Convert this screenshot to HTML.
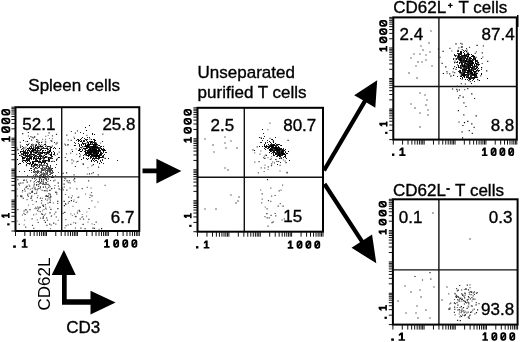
<!DOCTYPE html><html><head><meta charset="utf-8"><style>html,body{margin:0;padding:0;background:#fff;width:520px;height:342px;overflow:hidden}svg{display:block;will-change:transform}</style></head><body><svg width="520" height="342" viewBox="0 0 520 342"><path d="M30 162h1v1h-1zM44 162h1v1h-1zM29 155h1v1h-1zM44 158h1v1h-1zM51 153h1v1h-1zM35 155h1v1h-1zM34 164h1v1h-1zM40 149h1v1h-1zM34 150h1v1h-1zM31 151h1v1h-1zM44 153h1v1h-1zM27 158h1v1h-1zM27 159h1v1h-1zM32 148h1v1h-1zM45 146h1v1h-1zM29 163h1v1h-1zM30 148h1v1h-1zM41 165h1v1h-1zM48 158h1v1h-1zM36 153h1v1h-1zM40 155h1v1h-1zM48 153h1v1h-1zM35 148h1v1h-1zM43 158h1v1h-1zM30 153h1v1h-1zM27 157h1v1h-1zM36 155h1v1h-1zM42 157h1v1h-1zM39 164h1v1h-1zM40 162h1v1h-1zM23 157h1v1h-1zM37 152h1v1h-1zM26 153h1v1h-1zM27 156h1v1h-1zM31 151h1v1h-1zM23 152h1v1h-1zM29 159h1v1h-1zM36 145h1v1h-1zM24 157h1v1h-1zM37 147h1v1h-1zM23 155h1v1h-1zM38 152h1v1h-1zM25 151h1v1h-1zM31 154h1v1h-1zM30 146h1v1h-1zM39 158h1v1h-1zM35 159h1v1h-1zM32 164h1v1h-1zM46 153h1v1h-1zM35 164h1v1h-1zM49 159h1v1h-1zM38 154h1v1h-1zM33 161h1v1h-1zM34 155h1v1h-1zM43 148h1v1h-1zM41 149h1v1h-1zM25 156h1v1h-1zM38 146h1v1h-1zM27 157h1v1h-1zM24 153h1v1h-1zM33 147h1v1h-1zM38 146h1v1h-1zM42 156h1v1h-1zM35 145h1v1h-1zM50 158h1v1h-1zM34 152h1v1h-1zM28 148h1v1h-1zM35 156h1v1h-1zM36 164h1v1h-1zM23 154h1v1h-1zM39 159h1v1h-1zM46 154h1v1h-1zM35 159h1v1h-1zM33 161h1v1h-1zM28 158h1v1h-1zM38 150h1v1h-1zM47 163h1v1h-1zM32 161h1v1h-1zM21 156h1v1h-1zM49 151h1v1h-1zM30 149h1v1h-1zM29 151h1v1h-1zM38 146h1v1h-1zM36 158h1v1h-1zM27 158h1v1h-1zM25 155h1v1h-1zM46 163h1v1h-1zM29 157h1v1h-1zM45 161h1v1h-1zM42 162h1v1h-1zM45 154h1v1h-1zM46 156h1v1h-1zM39 159h1v1h-1zM29 156h1v1h-1zM52 156h1v1h-1zM39 148h1v1h-1zM41 162h1v1h-1zM27 150h1v1h-1zM23 160h1v1h-1zM43 162h1v1h-1zM48 151h1v1h-1zM42 152h1v1h-1zM35 153h1v1h-1zM46 157h1v1h-1zM25 150h1v1h-1zM38 158h1v1h-1zM47 149h1v1h-1zM48 161h1v1h-1zM51 157h1v1h-1zM38 153h1v1h-1zM39 154h1v1h-1zM33 151h1v1h-1zM40 154h1v1h-1zM27 150h1v1h-1zM33 158h1v1h-1zM23 154h1v1h-1zM39 155h1v1h-1zM31 146h1v1h-1zM45 148h1v1h-1zM37 147h1v1h-1zM30 162h1v1h-1zM43 157h1v1h-1zM38 157h1v1h-1zM36 157h1v1h-1zM44 152h1v1h-1zM37 164h1v1h-1zM45 162h1v1h-1zM38 152h1v1h-1zM40 164h1v1h-1zM48 152h1v1h-1zM35 163h1v1h-1zM33 148h1v1h-1zM42 148h1v1h-1zM22 154h1v1h-1zM50 157h1v1h-1zM28 153h1v1h-1zM44 148h1v1h-1zM49 160h1v1h-1zM34 154h1v1h-1zM25 157h1v1h-1zM36 147h1v1h-1zM33 157h1v1h-1zM27 160h1v1h-1zM51 157h1v1h-1zM46 154h1v1h-1zM40 162h1v1h-1zM36 150h1v1h-1zM35 160h1v1h-1zM27 156h1v1h-1zM43 150h1v1h-1zM32 156h1v1h-1zM32 162h1v1h-1zM44 158h1v1h-1zM37 158h1v1h-1zM39 158h1v1h-1zM42 156h1v1h-1zM31 156h1v1h-1zM38 158h1v1h-1zM35 146h1v1h-1zM35 160h1v1h-1zM23 151h1v1h-1zM24 155h1v1h-1zM43 157h1v1h-1zM44 160h1v1h-1zM48 149h1v1h-1zM41 147h1v1h-1zM25 150h1v1h-1zM46 148h1v1h-1zM46 148h1v1h-1zM50 155h1v1h-1zM34 157h1v1h-1zM37 148h1v1h-1zM36 159h1v1h-1zM25 156h1v1h-1zM51 153h1v1h-1zM43 156h1v1h-1zM25 161h1v1h-1zM44 162h1v1h-1zM22 151h1v1h-1zM24 151h1v1h-1zM28 148h1v1h-1zM25 152h1v1h-1zM37 151h1v1h-1zM41 147h1v1h-1zM40 161h1v1h-1zM38 157h1v1h-1zM26 149h1v1h-1zM43 160h1v1h-1zM35 147h1v1h-1zM28 159h1v1h-1zM35 164h1v1h-1zM27 153h1v1h-1zM34 152h1v1h-1zM24 152h1v1h-1zM49 161h1v1h-1zM48 151h1v1h-1zM48 160h1v1h-1zM37 165h1v1h-1zM39 158h1v1h-1zM39 153h1v1h-1zM42 156h1v1h-1zM49 151h1v1h-1zM43 157h1v1h-1zM44 163h1v1h-1zM36 152h1v1h-1zM26 158h1v1h-1zM38 156h1v1h-1zM31 159h1v1h-1zM45 154h1v1h-1zM37 147h1v1h-1zM31 164h1v1h-1zM39 146h1v1h-1zM52 156h1v1h-1zM42 160h1v1h-1zM29 156h1v1h-1zM34 152h1v1h-1zM34 155h1v1h-1zM42 161h1v1h-1zM35 159h1v1h-1zM51 158h1v1h-1zM39 162h1v1h-1zM41 158h1v1h-1zM24 157h1v1h-1zM31 159h1v1h-1zM27 151h1v1h-1zM35 160h1v1h-1zM37 148h1v1h-1zM25 160h1v1h-1zM37 146h1v1h-1zM31 157h1v1h-1zM41 153h1v1h-1zM35 145h1v1h-1zM36 160h1v1h-1zM27 151h1v1h-1zM47 152h1v1h-1zM36 153h1v1h-1zM45 161h1v1h-1zM41 155h1v1h-1zM34 150h1v1h-1zM44 160h1v1h-1zM48 160h1v1h-1zM49 160h1v1h-1zM30 163h1v1h-1zM51 157h1v1h-1zM48 151h1v1h-1zM26 149h1v1h-1zM31 153h1v1h-1zM31 153h1v1h-1zM54 152h1v1h-1zM33 152h1v1h-1zM39 144h1v1h-1zM32 154h1v1h-1zM28 148h1v1h-1zM36 156h1v1h-1zM36 144h1v1h-1zM30 168h1v1h-1zM39 161h1v1h-1zM46 166h1v1h-1zM31 144h1v1h-1zM47 166h1v1h-1zM52 175h1v1h-1zM35 147h1v1h-1zM46 156h1v1h-1zM21 153h1v1h-1zM39 156h1v1h-1zM31 144h1v1h-1zM27 157h1v1h-1zM46 156h1v1h-1zM41 146h1v1h-1zM43 148h1v1h-1zM56 159h1v1h-1zM36 155h1v1h-1zM20 147h1v1h-1zM27 152h1v1h-1zM23 151h1v1h-1zM51 161h1v1h-1zM39 160h1v1h-1zM44 148h1v1h-1zM50 157h1v1h-1zM33 175h1v1h-1zM40 161h1v1h-1zM50 154h1v1h-1zM50 148h1v1h-1zM40 152h1v1h-1zM47 146h1v1h-1zM33 167h1v1h-1zM44 161h1v1h-1zM47 153h1v1h-1zM48 160h1v1h-1zM29 164h1v1h-1zM31 168h1v1h-1zM26 158h1v1h-1zM50 165h1v1h-1zM32 150h1v1h-1zM23 150h1v1h-1zM39 154h1v1h-1zM41 156h1v1h-1zM29 158h1v1h-1zM26 164h1v1h-1zM45 152h1v1h-1zM30 154h1v1h-1zM35 158h1v1h-1zM52 177h1v1h-1zM36 141h1v1h-1zM35 163h1v1h-1zM44 158h1v1h-1zM46 154h1v1h-1zM50 166h1v1h-1zM30 156h1v1h-1zM43 152h1v1h-1zM52 156h1v1h-1zM41 152h1v1h-1zM53 148h1v1h-1zM24 160h1v1h-1zM21 154h1v1h-1zM27 155h1v1h-1zM43 152h1v1h-1zM55 167h1v1h-1zM48 146h1v1h-1zM35 147h1v1h-1zM34 166h1v1h-1zM37 156h1v1h-1zM38 167h1v1h-1zM31 157h1v1h-1zM36 148h1v1h-1zM54 154h1v1h-1zM39 162h1v1h-1zM27 155h1v1h-1zM39 155h1v1h-1zM36 151h1v1h-1zM45 170h1v1h-1zM49 146h1v1h-1zM30 151h1v1h-1zM39 160h1v1h-1zM28 150h1v1h-1zM39 155h1v1h-1zM54 142h1v1h-1zM40 145h1v1h-1zM21 151h1v1h-1zM52 158h1v1h-1zM56 164h1v1h-1zM34 155h1v1h-1zM19 171h1v1h-1zM46 160h1v1h-1zM44 161h1v1h-1zM34 154h1v1h-1zM40 153h1v1h-1zM46 152h1v1h-1zM41 152h1v1h-1zM28 155h1v1h-1zM22 156h1v1h-1zM37 146h1v1h-1zM29 160h1v1h-1zM22 146h1v1h-1zM23 153h1v1h-1zM22 151h1v1h-1zM19 163h1v1h-1zM41 153h1v1h-1zM59 157h1v1h-1zM29 138h1v1h-1zM47 149h1v1h-1zM34 147h1v1h-1zM33 147h1v1h-1zM33 149h1v1h-1zM24 157h1v1h-1zM22 148h1v1h-1zM40 156h1v1h-1zM40 158h1v1h-1zM21 149h1v1h-1zM26 156h1v1h-1zM42 168h1v1h-1zM43 157h1v1h-1zM29 150h1v1h-1zM43 155h1v1h-1zM43 148h1v1h-1zM41 149h1v1h-1zM30 153h1v1h-1zM33 151h1v1h-1zM54 147h1v1h-1zM24 171h1v1h-1zM47 151h1v1h-1zM38 154h1v1h-1zM43 156h1v1h-1zM56 160h1v1h-1zM26 144h1v1h-1zM53 154h1v1h-1zM54 154h1v1h-1zM36 139h1v1h-1zM23 162h1v1h-1zM35 152h1v1h-1zM18 153h1v1h-1zM38 153h1v1h-1zM26 158h1v1h-1zM35 145h1v1h-1zM51 156h1v1h-1zM50 151h1v1h-1zM28 149h1v1h-1zM47 164h1v1h-1zM23 147h1v1h-1zM38 152h1v1h-1zM54 161h1v1h-1zM28 144h1v1h-1zM39 142h1v1h-1zM27 145h1v1h-1zM24 152h1v1h-1zM53 151h1v1h-1zM44 144h1v1h-1zM45 152h1v1h-1zM40 146h1v1h-1zM40 145h1v1h-1zM43 147h1v1h-1zM30 155h1v1h-1zM44 169h1v1h-1zM45 170h1v1h-1zM39 165h1v1h-1zM33 171h1v1h-1zM43 175h1v1h-1zM49 168h1v1h-1zM51 177h1v1h-1zM43 173h1v1h-1zM45 177h1v1h-1zM93 152h1v1h-1zM96 149h1v1h-1zM94 152h1v1h-1zM100 151h1v1h-1zM98 155h1v1h-1zM91 146h1v1h-1zM93 149h1v1h-1zM92 158h1v1h-1zM93 149h1v1h-1zM92 149h1v1h-1zM89 148h1v1h-1zM97 154h1v1h-1zM94 149h1v1h-1zM87 145h1v1h-1zM94 154h1v1h-1zM88 143h1v1h-1zM95 150h1v1h-1zM94 151h1v1h-1zM99 154h1v1h-1zM96 145h1v1h-1zM96 145h1v1h-1zM89 152h1v1h-1zM95 148h1v1h-1zM88 144h1v1h-1zM92 151h1v1h-1zM86 145h1v1h-1zM95 152h1v1h-1zM93 142h1v1h-1zM95 150h1v1h-1zM97 152h1v1h-1zM93 149h1v1h-1zM90 147h1v1h-1zM89 153h1v1h-1zM93 151h1v1h-1zM93 147h1v1h-1zM88 147h1v1h-1zM103 149h1v1h-1zM89 144h1v1h-1zM87 148h1v1h-1zM97 152h1v1h-1zM89 149h1v1h-1zM98 151h1v1h-1zM91 144h1v1h-1zM91 156h1v1h-1zM98 151h1v1h-1zM94 152h1v1h-1zM98 155h1v1h-1zM88 151h1v1h-1zM97 153h1v1h-1zM88 146h1v1h-1zM94 147h1v1h-1zM92 142h1v1h-1zM100 152h1v1h-1zM83 158h1v1h-1zM98 151h1v1h-1zM94 151h1v1h-1zM97 151h1v1h-1zM89 150h1v1h-1zM94 150h1v1h-1zM96 152h1v1h-1zM95 149h1v1h-1zM92 152h1v1h-1zM94 153h1v1h-1zM91 151h1v1h-1zM93 145h1v1h-1zM93 153h1v1h-1zM89 148h1v1h-1zM101 152h1v1h-1zM96 145h1v1h-1zM94 151h1v1h-1zM95 152h1v1h-1zM95 146h1v1h-1zM91 148h1v1h-1zM103 157h1v1h-1zM84 138h1v1h-1zM89 148h1v1h-1zM88 153h1v1h-1zM92 151h1v1h-1zM96 156h1v1h-1zM97 146h1v1h-1zM99 148h1v1h-1zM96 156h1v1h-1zM95 150h1v1h-1zM98 147h1v1h-1zM91 150h1v1h-1zM95 153h1v1h-1zM91 147h1v1h-1zM90 147h1v1h-1zM96 156h1v1h-1zM98 156h1v1h-1zM103 156h1v1h-1zM94 139h1v1h-1zM98 151h1v1h-1zM82 142h1v1h-1zM93 149h1v1h-1zM95 154h1v1h-1zM102 159h1v1h-1zM88 147h1v1h-1zM93 157h1v1h-1zM97 148h1v1h-1zM83 157h1v1h-1zM95 151h1v1h-1zM92 147h1v1h-1zM94 158h1v1h-1zM98 159h1v1h-1zM97 151h1v1h-1zM98 150h1v1h-1zM88 153h1v1h-1zM88 158h1v1h-1zM100 160h1v1h-1zM97 155h1v1h-1zM94 150h1v1h-1zM92 148h1v1h-1zM91 139h1v1h-1zM104 154h1v1h-1zM95 151h1v1h-1zM88 153h1v1h-1zM91 148h1v1h-1zM93 148h1v1h-1zM94 143h1v1h-1zM93 157h1v1h-1zM100 147h1v1h-1zM105 158h1v1h-1zM91 152h1v1h-1zM98 148h1v1h-1zM93 148h1v1h-1zM94 148h1v1h-1zM94 156h1v1h-1zM98 148h1v1h-1zM98 157h1v1h-1zM95 152h1v1h-1zM96 149h1v1h-1zM93 153h1v1h-1zM88 156h1v1h-1zM97 162h1v1h-1zM96 153h1v1h-1zM100 152h1v1h-1zM98 148h1v1h-1zM93 146h1v1h-1zM95 153h1v1h-1zM90 144h1v1h-1zM99 148h1v1h-1zM103 146h1v1h-1zM93 149h1v1h-1zM93 156h1v1h-1zM93 147h1v1h-1zM96 147h1v1h-1zM94 147h1v1h-1zM90 150h1v1h-1zM98 149h1v1h-1zM94 161h1v1h-1zM97 155h1v1h-1zM95 143h1v1h-1zM98 150h1v1h-1zM91 152h1v1h-1zM96 156h1v1h-1zM106 152h1v1h-1zM94 146h1v1h-1zM99 154h1v1h-1zM102 160h1v1h-1zM105 158h1v1h-1zM99 147h1v1h-1zM97 150h1v1h-1zM96 150h1v1h-1zM96 152h1v1h-1zM102 150h1v1h-1zM96 151h1v1h-1zM90 149h1v1h-1zM92 150h1v1h-1zM94 154h1v1h-1zM95 149h1v1h-1zM95 149h1v1h-1zM100 155h1v1h-1zM91 147h1v1h-1zM94 156h1v1h-1zM98 157h1v1h-1zM99 150h1v1h-1zM89 144h1v1h-1zM91 157h1v1h-1zM90 152h1v1h-1zM93 157h1v1h-1zM94 142h1v1h-1zM97 158h1v1h-1zM93 151h1v1h-1zM93 158h1v1h-1zM101 157h1v1h-1zM96 150h1v1h-1zM91 152h1v1h-1zM95 148h1v1h-1zM92 154h1v1h-1zM100 157h1v1h-1zM91 151h1v1h-1zM99 155h1v1h-1zM100 150h1v1h-1zM91 151h1v1h-1zM94 149h1v1h-1zM101 153h1v1h-1zM97 152h1v1h-1zM100 161h1v1h-1zM88 147h1v1h-1zM91 153h1v1h-1zM89 147h1v1h-1zM99 156h1v1h-1zM100 148h1v1h-1zM95 144h1v1h-1zM89 146h1v1h-1zM93 144h1v1h-1zM91 144h1v1h-1zM91 148h1v1h-1zM96 153h1v1h-1zM90 152h1v1h-1zM92 144h1v1h-1zM90 149h1v1h-1zM91 150h1v1h-1zM96 158h1v1h-1zM94 149h1v1h-1zM94 150h1v1h-1zM94 152h1v1h-1zM93 148h1v1h-1zM98 159h1v1h-1zM92 150h1v1h-1zM94 153h1v1h-1zM94 159h1v1h-1zM95 149h1v1h-1zM94 148h1v1h-1zM90 149h1v1h-1zM90 158h1v1h-1zM89 145h1v1h-1zM95 158h1v1h-1zM96 154h1v1h-1zM86 150h1v1h-1zM101 146h1v1h-1zM94 153h1v1h-1zM94 147h1v1h-1zM94 150h1v1h-1zM91 151h1v1h-1zM104 149h1v1h-1zM89 148h1v1h-1zM94 145h1v1h-1zM98 156h1v1h-1zM96 149h1v1h-1zM105 152h1v1h-1zM90 156h1v1h-1zM94 147h1v1h-1zM97 144h1v1h-1zM94 153h1v1h-1zM89 145h1v1h-1zM96 150h1v1h-1zM94 155h1v1h-1zM96 148h1v1h-1zM99 156h1v1h-1zM98 149h1v1h-1zM96 158h1v1h-1zM95 157h1v1h-1zM89 148h1v1h-1zM93 150h1v1h-1zM95 148h1v1h-1zM92 151h1v1h-1zM94 156h1v1h-1zM90 144h1v1h-1zM101 157h1v1h-1zM103 148h1v1h-1zM92 147h1v1h-1zM100 153h1v1h-1zM94 148h1v1h-1zM93 155h1v1h-1zM95 142h1v1h-1zM97 161h1v1h-1zM91 149h1v1h-1zM96 152h1v1h-1zM95 154h1v1h-1zM99 149h1v1h-1zM94 151h1v1h-1zM90 151h1v1h-1zM97 153h1v1h-1zM93 149h1v1h-1zM94 151h1v1h-1zM98 158h1v1h-1zM85 152h1v1h-1zM95 150h1v1h-1zM87 139h1v1h-1zM99 155h1v1h-1zM90 146h1v1h-1zM87 141h1v1h-1zM88 154h1v1h-1zM92 148h1v1h-1zM86 150h1v1h-1zM93 156h1v1h-1zM97 152h1v1h-1zM92 158h1v1h-1zM102 150h1v1h-1zM96 154h1v1h-1zM95 148h1v1h-1zM91 154h1v1h-1zM91 152h1v1h-1zM100 154h1v1h-1zM89 153h1v1h-1zM94 147h1v1h-1zM92 149h1v1h-1zM103 163h1v1h-1zM84 143h1v1h-1zM96 149h1v1h-1zM91 147h1v1h-1zM96 146h1v1h-1zM92 146h1v1h-1zM92 156h1v1h-1zM100 151h1v1h-1zM100 148h1v1h-1zM102 153h1v1h-1zM92 152h1v1h-1zM88 149h1v1h-1zM94 153h1v1h-1zM94 150h1v1h-1zM94 151h1v1h-1zM95 149h1v1h-1zM90 150h1v1h-1zM100 146h1v1h-1zM96 153h1v1h-1zM96 155h1v1h-1zM99 158h1v1h-1zM96 154h1v1h-1zM102 153h1v1h-1zM100 148h1v1h-1zM98 153h1v1h-1zM96 153h1v1h-1zM88 149h1v1h-1zM86 152h1v1h-1zM97 153h1v1h-1zM98 153h1v1h-1zM99 148h1v1h-1zM96 153h1v1h-1zM90 148h1v1h-1zM86 150h1v1h-1zM96 147h1v1h-1zM97 147h1v1h-1zM93 147h1v1h-1zM92 141h1v1h-1zM87 142h1v1h-1zM89 151h1v1h-1zM94 148h1v1h-1zM102 141h1v1h-1zM101 146h1v1h-1zM77 139h1v1h-1zM98 145h1v1h-1zM80 149h1v1h-1zM88 151h1v1h-1zM86 145h1v1h-1zM82 146h1v1h-1zM89 147h1v1h-1zM94 140h1v1h-1zM85 146h1v1h-1zM79 148h1v1h-1zM99 158h1v1h-1zM84 154h1v1h-1zM95 160h1v1h-1zM81 147h1v1h-1zM96 143h1v1h-1zM86 155h1v1h-1zM87 147h1v1h-1zM88 151h1v1h-1zM96 157h1v1h-1zM117 160h1v1h-1zM94 144h1v1h-1zM89 146h1v1h-1zM82 150h1v1h-1zM77 161h1v1h-1zM91 144h1v1h-1zM96 149h1v1h-1zM85 148h1v1h-1zM79 148h1v1h-1zM93 151h1v1h-1zM91 153h1v1h-1zM89 146h1v1h-1zM99 151h1v1h-1zM98 156h1v1h-1zM85 150h1v1h-1zM86 145h1v1h-1zM78 140h1v1h-1zM86 148h1v1h-1zM90 157h1v1h-1zM97 152h1v1h-1zM83 133h1v1h-1zM105 152h1v1h-1zM92 154h1v1h-1zM88 149h1v1h-1zM86 145h1v1h-1zM90 149h1v1h-1zM83 143h1v1h-1zM79 144h1v1h-1zM84 140h1v1h-1zM82 137h1v1h-1zM92 156h1v1h-1zM94 147h1v1h-1zM94 149h1v1h-1zM74 142h1v1h-1zM75 143h1v1h-1zM94 144h1v1h-1zM93 154h1v1h-1zM87 153h1v1h-1zM80 132h1v1h-1zM85 139h1v1h-1zM93 154h1v1h-1zM84 141h1v1h-1zM79 146h1v1h-1zM81 138h1v1h-1zM92 134h1v1h-1zM81 141h1v1h-1zM81 140h1v1h-1zM93 153h1v1h-1zM74 138h1v1h-1zM80 132h1v1h-1zM95 158h1v1h-1zM81 144h1v1h-1zM86 139h1v1h-1zM85 154h1v1h-1zM90 158h1v1h-1zM97 148h1v1h-1zM88 144h1v1h-1zM88 145h1v1h-1zM79 153h1v1h-1zM96 156h1v1h-1zM78 143h1v1h-1zM92 156h1v1h-1zM92 154h1v1h-1zM86 150h1v1h-1zM87 150h1v1h-1zM87 145h1v1h-1zM102 157h1v1h-1zM95 148h1v1h-1zM82 149h1v1h-1zM86 140h1v1h-1zM84 146h1v1h-1zM89 149h1v1h-1zM90 143h1v1h-1zM105 150h1v1h-1zM76 140h1v1h-1zM92 144h1v1h-1zM88 156h1v1h-1zM85 148h1v1h-1zM89 137h1v1h-1zM96 150h1v1h-1zM98 148h1v1h-1zM86 153h1v1h-1zM99 154h1v1h-1zM92 150h1v1h-1zM97 148h1v1h-1zM93 145h1v1h-1zM96 148h1v1h-1zM89 147h1v1h-1zM93 151h1v1h-1zM94 147h1v1h-1zM103 152h1v1h-1zM75 145h1v1h-1zM87 137h1v1h-1zM96 145h1v1h-1zM99 149h1v1h-1zM83 140h1v1h-1zM99 154h1v1h-1zM97 151h1v1h-1zM91 148h1v1h-1zM90 141h1v1h-1zM83 155h1v1h-1zM85 143h1v1h-1zM94 146h1v1h-1zM102 150h1v1h-1zM91 153h1v1h-1zM91 155h1v1h-1zM89 141h1v1h-1zM83 155h1v1h-1zM99 155h1v1h-1zM84 151h1v1h-1zM94 143h1v1h-1zM80 147h1v1h-1zM99 147h1v1h-1zM46.6 160.1h1.2v1.2h-1.2zM38.7 150.5h1.2v1.2h-1.2zM38.4 151.5h1.2v1.2h-1.2zM30.8 156.4h1.2v1.2h-1.2zM34.1 136.3h1.2v1.2h-1.2zM38.7 152.3h1.2v1.2h-1.2zM47.1 150.6h1.2v1.2h-1.2zM45.4 145.3h1.2v1.2h-1.2zM39.8 164.4h1.2v1.2h-1.2zM25.9 165.0h1.2v1.2h-1.2zM23.0 154.1h1.2v1.2h-1.2zM21.9 160.2h1.2v1.2h-1.2zM55.5 143.4h1.2v1.2h-1.2zM31.0 139.6h1.2v1.2h-1.2zM43.1 159.1h1.2v1.2h-1.2zM48.6 153.8h1.2v1.2h-1.2zM34.5 151.3h1.2v1.2h-1.2zM32.4 144.1h1.2v1.2h-1.2zM38.0 142.5h1.2v1.2h-1.2zM48.5 132.2h1.2v1.2h-1.2zM22.1 133.0h1.2v1.2h-1.2zM56.5 142.2h1.2v1.2h-1.2zM55.9 133.8h1.2v1.2h-1.2zM51.0 140.3h1.2v1.2h-1.2zM27.8 131.9h1.2v1.2h-1.2zM39.6 206.7h1.2v1.2h-1.2zM50.2 195.7h1.2v1.2h-1.2zM20.0 195.6h1.2v1.2h-1.2zM43.1 179.4h1.2v1.2h-1.2zM49.4 212.2h1.2v1.2h-1.2zM46.2 195.9h1.2v1.2h-1.2zM42.9 205.8h1.2v1.2h-1.2zM58.5 188.3h1.2v1.2h-1.2zM26.6 181.5h1.2v1.2h-1.2zM50.3 208.7h1.2v1.2h-1.2zM42.4 204.5h1.2v1.2h-1.2zM25.5 186.7h1.2v1.2h-1.2zM57.2 200.8h1.2v1.2h-1.2zM26.4 185.7h1.2v1.2h-1.2zM47.1 195.9h1.2v1.2h-1.2zM51.1 188.0h1.2v1.2h-1.2zM31.7 190.4h1.2v1.2h-1.2zM55.2 191.8h1.2v1.2h-1.2zM31.9 191.6h1.2v1.2h-1.2zM24.5 213.9h1.2v1.2h-1.2zM23.5 210.4h1.2v1.2h-1.2zM42.5 217.7h1.2v1.2h-1.2zM41.1 178.7h1.2v1.2h-1.2zM42.8 216.2h1.2v1.2h-1.2zM42.2 183.6h1.2v1.2h-1.2zM53.1 222.6h1.2v1.2h-1.2zM42.8 186.5h1.2v1.2h-1.2zM25.5 209.2h1.2v1.2h-1.2zM30.4 197.7h1.2v1.2h-1.2zM57.3 208.0h1.2v1.2h-1.2zM41.2 213.2h1.2v1.2h-1.2zM55.4 191.4h1.2v1.2h-1.2zM44.8 221.8h1.2v1.2h-1.2zM29.4 209.1h1.2v1.2h-1.2zM37.6 208.2h1.2v1.2h-1.2zM79.1 156.1h1.2v1.2h-1.2zM88.9 173.3h1.2v1.2h-1.2zM66.6 160.0h1.2v1.2h-1.2zM82.6 163.2h1.2v1.2h-1.2zM98.0 166.6h1.2v1.2h-1.2zM95.4 142.3h1.2v1.2h-1.2zM74.8 165.9h1.2v1.2h-1.2zM66.0 172.3h1.2v1.2h-1.2zM67.2 144.2h1.2v1.2h-1.2zM82.7 163.8h1.2v1.2h-1.2zM76.8 212.4h1.2v1.2h-1.2zM68.6 200.9h1.2v1.2h-1.2zM88.5 207.9h1.2v1.2h-1.2zM73.1 179.4h1.2v1.2h-1.2zM64.2 211.8h1.2v1.2h-1.2zM92.4 227.6h1.2v1.2h-1.2zM70.8 200.0h1.2v1.2h-1.2zM74.0 178.1h1.2v1.2h-1.2zM63.6 200.8h1.2v1.2h-1.2zM75.3 216.1h1.2v1.2h-1.2zM101.0 228.1h1.2v1.2h-1.2zM63.8 205.0h1.2v1.2h-1.2zM82.5 223.8h1.2v1.2h-1.2zM91.4 195.2h1.2v1.2h-1.2zM63.5 183.6h1.2v1.2h-1.2zM79.6 218.4h1.2v1.2h-1.2zM271 151h1v1h-1zM276 154h1v1h-1zM275 153h1v1h-1zM274 150h1v1h-1zM279 148h1v1h-1zM278 153h1v1h-1zM274 149h1v1h-1zM278 153h1v1h-1zM278 148h1v1h-1zM275 150h1v1h-1zM280 152h1v1h-1zM279 154h1v1h-1zM274 151h1v1h-1zM279 151h1v1h-1zM283 150h1v1h-1zM273 145h1v1h-1zM276 148h1v1h-1zM273 151h1v1h-1zM265 146h1v1h-1zM274 150h1v1h-1zM277 152h1v1h-1zM266 146h1v1h-1zM276 152h1v1h-1zM268 146h1v1h-1zM285 156h1v1h-1zM277 151h1v1h-1zM271 149h1v1h-1zM280 155h1v1h-1zM272 149h1v1h-1zM276 150h1v1h-1zM271 149h1v1h-1zM279 149h1v1h-1zM282 155h1v1h-1zM276 149h1v1h-1zM271 150h1v1h-1zM268 147h1v1h-1zM283 150h1v1h-1zM270 151h1v1h-1zM277 145h1v1h-1zM275 150h1v1h-1zM275 154h1v1h-1zM282 152h1v1h-1zM277 150h1v1h-1zM268 144h1v1h-1zM285 154h1v1h-1zM280 150h1v1h-1zM274 149h1v1h-1zM278 147h1v1h-1zM273 147h1v1h-1zM272 144h1v1h-1zM276 144h1v1h-1zM286 158h1v1h-1zM272 144h1v1h-1zM280 151h1v1h-1zM276 156h1v1h-1zM273 142h1v1h-1zM282 149h1v1h-1zM277 153h1v1h-1zM272 148h1v1h-1zM275 148h1v1h-1zM284 156h1v1h-1zM277 148h1v1h-1zM283 151h1v1h-1zM272 146h1v1h-1zM274 144h1v1h-1zM276 150h1v1h-1zM273 148h1v1h-1zM276 151h1v1h-1zM277 152h1v1h-1zM274 148h1v1h-1zM279 156h1v1h-1zM276 149h1v1h-1zM282 151h1v1h-1zM282 154h1v1h-1zM279 154h1v1h-1zM278 155h1v1h-1zM283 157h1v1h-1zM273 148h1v1h-1zM269 146h1v1h-1zM276 148h1v1h-1zM274 148h1v1h-1zM273 142h1v1h-1zM269 147h1v1h-1zM283 150h1v1h-1zM279 152h1v1h-1zM269 145h1v1h-1zM280 156h1v1h-1zM275 149h1v1h-1zM268 148h1v1h-1zM273 148h1v1h-1zM272 148h1v1h-1zM283 152h1v1h-1zM270 145h1v1h-1zM273 147h1v1h-1zM268 146h1v1h-1zM277 151h1v1h-1zM275 147h1v1h-1zM280 151h1v1h-1zM279 150h1v1h-1zM277 148h1v1h-1zM272 150h1v1h-1zM278 150h1v1h-1zM273 155h1v1h-1zM275 152h1v1h-1zM270 150h1v1h-1zM276 151h1v1h-1zM274 155h1v1h-1zM273 149h1v1h-1zM270 150h1v1h-1zM272 149h1v1h-1zM274 149h1v1h-1zM273 149h1v1h-1zM273 149h1v1h-1zM278 149h1v1h-1zM272 148h1v1h-1zM276 150h1v1h-1zM272 149h1v1h-1zM281 151h1v1h-1zM280 150h1v1h-1zM270 149h1v1h-1zM271 148h1v1h-1zM280 148h1v1h-1zM282 151h1v1h-1zM278 148h1v1h-1zM282 150h1v1h-1zM277 149h1v1h-1zM274 151h1v1h-1zM271 149h1v1h-1zM276 153h1v1h-1zM270 144h1v1h-1zM271 156h1v1h-1zM275 148h1v1h-1zM264 145h1v1h-1zM280 154h1v1h-1zM276 150h1v1h-1zM277 150h1v1h-1zM281 150h1v1h-1zM281 149h1v1h-1zM275 152h1v1h-1zM272 144h1v1h-1zM274 148h1v1h-1zM266 147h1v1h-1zM272 147h1v1h-1zM267 148h1v1h-1zM273 152h1v1h-1zM275 148h1v1h-1zM282 151h1v1h-1zM275 146h1v1h-1zM270 149h1v1h-1zM268 148h1v1h-1zM287 153h1v1h-1zM276 145h1v1h-1zM274 148h1v1h-1zM281 153h1v1h-1zM284 154h1v1h-1zM277 152h1v1h-1zM283 154h1v1h-1zM273 151h1v1h-1zM278 154h1v1h-1zM283 148h1v1h-1zM281 150h1v1h-1zM274 148h1v1h-1zM283 153h1v1h-1zM280 155h1v1h-1zM270 146h1v1h-1zM280 151h1v1h-1zM274 150h1v1h-1zM264 148h1v1h-1zM280 153h1v1h-1zM278 149h1v1h-1zM269 147h1v1h-1zM280 152h1v1h-1zM278 153h1v1h-1zM278 150h1v1h-1zM272 150h1v1h-1zM277 156h1v1h-1zM274 151h1v1h-1zM281 154h1v1h-1zM279 152h1v1h-1zM272 149h1v1h-1zM285 154h1v1h-1zM278 153h1v1h-1zM281 148h1v1h-1zM282 151h1v1h-1zM281 149h1v1h-1zM265 146h1v1h-1zM276 153h1v1h-1zM274 150h1v1h-1zM273 149h1v1h-1zM282 154h1v1h-1zM269 141h1v1h-1zM271 149h1v1h-1zM274 144h1v1h-1zM276 152h1v1h-1zM281 153h1v1h-1zM275 150h1v1h-1zM280 154h1v1h-1zM261 142h1v1h-1zM278 154h1v1h-1zM274 149h1v1h-1zM271 148h1v1h-1zM285 157h1v1h-1zM273 146h1v1h-1zM285 151h1v1h-1zM276 149h1v1h-1zM279 154h1v1h-1zM282 154h1v1h-1zM281 155h1v1h-1zM272 152h1v1h-1zM281 149h1v1h-1zM280 153h1v1h-1zM281 158h1v1h-1zM276 146h1v1h-1zM280 150h1v1h-1zM273 146h1v1h-1zM278 151h1v1h-1zM271 145h1v1h-1zM277 151h1v1h-1zM275 150h1v1h-1zM281 150h1v1h-1zM273 144h1v1h-1zM275 148h1v1h-1zM272 150h1v1h-1zM281 153h1v1h-1zM264 158h1v1h-1zM260 142h1v1h-1zM273 153h1v1h-1zM265 149h1v1h-1zM275 137h1v1h-1zM265 143h1v1h-1zM271 153h1v1h-1zM263 133h1v1h-1zM277 147h1v1h-1zM282 152h1v1h-1zM267 146h1v1h-1zM275 145h1v1h-1zM277 152h1v1h-1zM277 149h1v1h-1zM267 146h1v1h-1zM272 148h1v1h-1zM273 151h1v1h-1zM273 146h1v1h-1zM275 159h1v1h-1zM273 140h1v1h-1zM262 146h1v1h-1zM278 151h1v1h-1zM277 144h1v1h-1zM267 140h1v1h-1zM275 149h1v1h-1zM261 138h1v1h-1zM265 147h1v1h-1zM283 149h1v1h-1zM267 142h1v1h-1zM271 143h1v1h-1zM266 155h1v1h-1zM270 148h1v1h-1zM275 148h1v1h-1zM277 154h1v1h-1zM269 145h1v1h-1zM279 148h1v1h-1zM279 148h1v1h-1zM259 137h1v1h-1zM280 145h1v1h-1zM271 147h1v1h-1zM279 144h1v1h-1zM271 139h1v1h-1zM265 142h1v1h-1zM268 148h1v1h-1zM276 148h1v1h-1zM262 140h1v1h-1zM263 138h1v1h-1zM279 147h1v1h-1zM280 162h1v1h-1zM281 154h1v1h-1zM272 146h1v1h-1zM274 147h1v1h-1zM274 147h1v1h-1zM277 150h1v1h-1zM270 145h1v1h-1zM276 150h1v1h-1zM268 146h1v1h-1zM264 136h1v1h-1zM271 144h1v1h-1zM272 147h1v1h-1zM278 151h1v1h-1zM265 149h1v1h-1zM272.9 151.1h1.2v1.2h-1.2zM260.6 137.2h1.2v1.2h-1.2zM265.4 154.5h1.2v1.2h-1.2zM287.5 139.8h1.2v1.2h-1.2zM272.3 151.8h1.2v1.2h-1.2zM268.1 145.7h1.2v1.2h-1.2zM285.5 162.0h1.2v1.2h-1.2zM276.4 160.9h1.2v1.2h-1.2zM286.5 172.4h1.2v1.2h-1.2zM204.4 138.4h1.2v1.2h-1.2zM213.4 151.4h1.2v1.2h-1.2zM224.4 136.4h1.2v1.2h-1.2zM224.4 142.4h1.2v1.2h-1.2zM230.4 140.4h1.2v1.2h-1.2zM225.4 147.4h1.2v1.2h-1.2zM224.4 167.4h1.2v1.2h-1.2zM230.4 194.4h1.2v1.2h-1.2zM204.4 208.4h1.2v1.2h-1.2zM266.9 179.1h1.2v1.2h-1.2zM282.5 205.6h1.2v1.2h-1.2zM266.3 213.0h1.2v1.2h-1.2zM461 62h1v1h-1zM470 65h1v1h-1zM461 72h1v1h-1zM471 65h1v1h-1zM475 62h1v1h-1zM471 70h1v1h-1zM475 76h1v1h-1zM466 76h1v1h-1zM475 69h1v1h-1zM474 71h1v1h-1zM460 71h1v1h-1zM464 64h1v1h-1zM462 70h1v1h-1zM464 69h1v1h-1zM477 61h1v1h-1zM465 75h1v1h-1zM465 62h1v1h-1zM469 61h1v1h-1zM466 70h1v1h-1zM472 64h1v1h-1zM459 71h1v1h-1zM474 77h1v1h-1zM469 59h1v1h-1zM460 70h1v1h-1zM469 77h1v1h-1zM464 63h1v1h-1zM476 70h1v1h-1zM471 77h1v1h-1zM473 57h1v1h-1zM467 68h1v1h-1zM474 76h1v1h-1zM471 73h1v1h-1zM464 68h1v1h-1zM474 68h1v1h-1zM470 75h1v1h-1zM460 71h1v1h-1zM474 59h1v1h-1zM474 57h1v1h-1zM469 66h1v1h-1zM469 74h1v1h-1zM465 55h1v1h-1zM468 74h1v1h-1zM461 67h1v1h-1zM474 73h1v1h-1zM468 80h1v1h-1zM473 77h1v1h-1zM468 78h1v1h-1zM469 67h1v1h-1zM472 56h1v1h-1zM469 73h1v1h-1zM466 59h1v1h-1zM472 63h1v1h-1zM474 71h1v1h-1zM470 62h1v1h-1zM469 65h1v1h-1zM462 56h1v1h-1zM461 73h1v1h-1zM468 53h1v1h-1zM462 63h1v1h-1zM476 74h1v1h-1zM469 67h1v1h-1zM474 73h1v1h-1zM477 73h1v1h-1zM471 54h1v1h-1zM475 76h1v1h-1zM463 73h1v1h-1zM467 65h1v1h-1zM473 63h1v1h-1zM461 74h1v1h-1zM459 60h1v1h-1zM469 59h1v1h-1zM474 66h1v1h-1zM459 70h1v1h-1zM464 58h1v1h-1zM465 58h1v1h-1zM463 76h1v1h-1zM471 62h1v1h-1zM462 61h1v1h-1zM468 71h1v1h-1zM472 67h1v1h-1zM467 60h1v1h-1zM465 75h1v1h-1zM473 59h1v1h-1zM465 79h1v1h-1zM474 64h1v1h-1zM469 67h1v1h-1zM466 67h1v1h-1zM470 61h1v1h-1zM460 68h1v1h-1zM472 77h1v1h-1zM462 73h1v1h-1zM461 74h1v1h-1zM464 73h1v1h-1zM466 56h1v1h-1zM472 59h1v1h-1zM473 55h1v1h-1zM473 77h1v1h-1zM467 65h1v1h-1zM467 54h1v1h-1zM469 63h1v1h-1zM475 60h1v1h-1zM466 70h1v1h-1zM476 71h1v1h-1zM465 71h1v1h-1zM465 57h1v1h-1zM458 66h1v1h-1zM470 63h1v1h-1zM465 65h1v1h-1zM464 66h1v1h-1zM461 58h1v1h-1zM466 67h1v1h-1zM461 74h1v1h-1zM463 62h1v1h-1zM465 60h1v1h-1zM461 64h1v1h-1zM467 67h1v1h-1zM475 62h1v1h-1zM472 63h1v1h-1zM467 73h1v1h-1zM467 62h1v1h-1zM471 78h1v1h-1zM471 60h1v1h-1zM464 57h1v1h-1zM469 66h1v1h-1zM463 75h1v1h-1zM464 54h1v1h-1zM461 59h1v1h-1zM464 56h1v1h-1zM459 63h1v1h-1zM472 59h1v1h-1zM467 64h1v1h-1zM472 66h1v1h-1zM463 69h1v1h-1zM467 73h1v1h-1zM478 70h1v1h-1zM459 62h1v1h-1zM461 75h1v1h-1zM466 77h1v1h-1zM470 61h1v1h-1zM462 70h1v1h-1zM470 61h1v1h-1zM461 65h1v1h-1zM461 74h1v1h-1zM467 53h1v1h-1zM469 57h1v1h-1zM461 63h1v1h-1zM475 61h1v1h-1zM476 66h1v1h-1zM466 77h1v1h-1zM459 70h1v1h-1zM473 67h1v1h-1zM459 67h1v1h-1zM465 67h1v1h-1zM471 70h1v1h-1zM458 71h1v1h-1zM473 69h1v1h-1zM468 74h1v1h-1zM463 61h1v1h-1zM463 65h1v1h-1zM468 61h1v1h-1zM462 78h1v1h-1zM471 71h1v1h-1zM472 56h1v1h-1zM463 71h1v1h-1zM469 60h1v1h-1zM461 61h1v1h-1zM463 72h1v1h-1zM475 68h1v1h-1zM468 61h1v1h-1zM468 55h1v1h-1zM471 72h1v1h-1zM473 58h1v1h-1zM472 69h1v1h-1zM472 65h1v1h-1zM476 75h1v1h-1zM478 68h1v1h-1zM472 55h1v1h-1zM460 66h1v1h-1zM466 63h1v1h-1zM463 66h1v1h-1zM472 66h1v1h-1zM476 65h1v1h-1zM469 63h1v1h-1zM468 65h1v1h-1zM467 73h1v1h-1zM460 72h1v1h-1zM475 72h1v1h-1zM473 74h1v1h-1zM463 66h1v1h-1zM471 73h1v1h-1zM461 64h1v1h-1zM467 70h1v1h-1zM470 76h1v1h-1zM463 73h1v1h-1zM472 64h1v1h-1zM474 72h1v1h-1zM468 63h1v1h-1zM460 67h1v1h-1zM464 71h1v1h-1zM470 59h1v1h-1zM478 68h1v1h-1zM467 74h1v1h-1zM473 55h1v1h-1zM463 61h1v1h-1zM463 59h1v1h-1zM475 69h1v1h-1zM464 69h1v1h-1zM461 57h1v1h-1zM467 73h1v1h-1zM465 65h1v1h-1zM474 56h1v1h-1zM464 76h1v1h-1zM470 59h1v1h-1zM472 55h1v1h-1zM464 55h1v1h-1zM460 62h1v1h-1zM460 61h1v1h-1zM475 73h1v1h-1zM468 59h1v1h-1zM463 66h1v1h-1zM465 62h1v1h-1zM462 71h1v1h-1zM468 66h1v1h-1zM460 70h1v1h-1zM466 54h1v1h-1zM477 73h1v1h-1zM476 74h1v1h-1zM462 72h1v1h-1zM468 56h1v1h-1zM474 68h1v1h-1zM467 65h1v1h-1zM476 60h1v1h-1zM476 73h1v1h-1zM463 69h1v1h-1zM474 74h1v1h-1zM477 66h1v1h-1zM459 72h1v1h-1zM471 74h1v1h-1zM463 56h1v1h-1zM468 74h1v1h-1zM471 75h1v1h-1zM472 69h1v1h-1zM471 74h1v1h-1zM464 75h1v1h-1zM472 69h1v1h-1zM470 72h1v1h-1zM477 73h1v1h-1zM469 73h1v1h-1zM465 68h1v1h-1zM464 62h1v1h-1zM476 68h1v1h-1zM475 66h1v1h-1zM474 56h1v1h-1zM476 60h1v1h-1zM469 77h1v1h-1zM465 61h1v1h-1zM462 59h1v1h-1zM467 76h1v1h-1zM477 62h1v1h-1zM464 61h1v1h-1zM469 54h1v1h-1zM475 61h1v1h-1zM473 78h1v1h-1zM467 64h1v1h-1zM472 66h1v1h-1zM463 70h1v1h-1zM470 58h1v1h-1zM461 65h1v1h-1zM466 68h1v1h-1zM476 71h1v1h-1zM468 76h1v1h-1zM473 57h1v1h-1zM465 72h1v1h-1zM467 72h1v1h-1zM469 77h1v1h-1zM473 75h1v1h-1zM468 69h1v1h-1zM466 70h1v1h-1zM473 62h1v1h-1zM477 60h1v1h-1zM474 58h1v1h-1zM470 64h1v1h-1zM465 70h1v1h-1zM472 75h1v1h-1zM462 65h1v1h-1zM471 68h1v1h-1zM462 65h1v1h-1zM478 71h1v1h-1zM464 69h1v1h-1zM474 67h1v1h-1zM481 69h1v1h-1zM474 78h1v1h-1zM477 69h1v1h-1zM473 77h1v1h-1zM470 64h1v1h-1zM468 71h1v1h-1zM470 67h1v1h-1zM468 80h1v1h-1zM463 67h1v1h-1zM472 66h1v1h-1zM471 74h1v1h-1zM464 57h1v1h-1zM465 69h1v1h-1zM466 65h1v1h-1zM468 70h1v1h-1zM468 73h1v1h-1zM464 68h1v1h-1zM472 70h1v1h-1zM467 66h1v1h-1zM481 67h1v1h-1zM472 75h1v1h-1zM473 70h1v1h-1zM474 69h1v1h-1zM466 60h1v1h-1zM466 48h1v1h-1zM467 75h1v1h-1zM476 77h1v1h-1zM476 61h1v1h-1zM466 63h1v1h-1zM474 71h1v1h-1zM468 66h1v1h-1zM468 65h1v1h-1zM474 68h1v1h-1zM469 65h1v1h-1zM468 69h1v1h-1zM469 67h1v1h-1zM463 57h1v1h-1zM477 79h1v1h-1zM467 57h1v1h-1zM461 65h1v1h-1zM459 67h1v1h-1zM466 69h1v1h-1zM462 60h1v1h-1zM461 67h1v1h-1zM471 65h1v1h-1zM471 76h1v1h-1zM477 67h1v1h-1zM474 68h1v1h-1zM466 66h1v1h-1zM461 68h1v1h-1zM478 71h1v1h-1zM468 71h1v1h-1zM470 63h1v1h-1zM467 65h1v1h-1zM471 70h1v1h-1zM468 66h1v1h-1zM470 75h1v1h-1zM470 69h1v1h-1zM474 81h1v1h-1zM469 73h1v1h-1zM468 69h1v1h-1zM475 71h1v1h-1zM466 65h1v1h-1zM463 68h1v1h-1zM475 75h1v1h-1zM467 75h1v1h-1zM468 69h1v1h-1zM470 77h1v1h-1zM468 70h1v1h-1zM471 63h1v1h-1zM472 80h1v1h-1zM465 61h1v1h-1zM471 64h1v1h-1zM477 70h1v1h-1zM469 64h1v1h-1zM473 68h1v1h-1zM468 68h1v1h-1zM472 74h1v1h-1zM468 62h1v1h-1zM476 76h1v1h-1zM465 67h1v1h-1zM474 69h1v1h-1zM466 69h1v1h-1zM473 70h1v1h-1zM469 66h1v1h-1zM469 63h1v1h-1zM479 70h1v1h-1zM464 67h1v1h-1zM470 75h1v1h-1zM461 66h1v1h-1zM468 65h1v1h-1zM472 68h1v1h-1zM463 65h1v1h-1zM473 56h1v1h-1zM473 60h1v1h-1zM469 61h1v1h-1zM465 68h1v1h-1zM471 75h1v1h-1zM461 60h1v1h-1zM467 64h1v1h-1zM472 78h1v1h-1zM472 61h1v1h-1zM478 64h1v1h-1zM460 65h1v1h-1zM468 55h1v1h-1zM462 64h1v1h-1zM468 67h1v1h-1zM467 76h1v1h-1zM465 68h1v1h-1zM468 70h1v1h-1zM470 62h1v1h-1zM465 65h1v1h-1zM468 77h1v1h-1zM467 71h1v1h-1zM463 65h1v1h-1zM467 63h1v1h-1zM469 71h1v1h-1zM472 74h1v1h-1zM462 69h1v1h-1zM473 63h1v1h-1zM467 79h1v1h-1zM475 76h1v1h-1zM463 74h1v1h-1zM472 60h1v1h-1zM464 65h1v1h-1zM470 65h1v1h-1zM475 77h1v1h-1zM479 64h1v1h-1zM469 66h1v1h-1zM472 78h1v1h-1zM471 72h1v1h-1zM457 76h1v1h-1zM467 60h1v1h-1zM471 67h1v1h-1zM466 70h1v1h-1zM468 60h1v1h-1zM470 66h1v1h-1zM475 75h1v1h-1zM476 67h1v1h-1zM465 69h1v1h-1zM466 74h1v1h-1zM474 57h1v1h-1zM470 69h1v1h-1zM471 72h1v1h-1zM471 60h1v1h-1zM471 63h1v1h-1zM469 72h1v1h-1zM464 62h1v1h-1zM466 64h1v1h-1zM470 78h1v1h-1zM467 63h1v1h-1zM467 54h1v1h-1zM476 63h1v1h-1zM470 78h1v1h-1zM462 78h1v1h-1zM465 66h1v1h-1zM473 74h1v1h-1zM464 69h1v1h-1zM467 63h1v1h-1zM472 59h1v1h-1zM462 62h1v1h-1zM467 73h1v1h-1zM465 61h1v1h-1zM475 75h1v1h-1zM470 64h1v1h-1zM468 68h1v1h-1zM474 71h1v1h-1zM469 62h1v1h-1zM468 64h1v1h-1zM468 53h1v1h-1zM468 61h1v1h-1zM462 74h1v1h-1zM471 77h1v1h-1zM469 70h1v1h-1zM467 71h1v1h-1zM470 58h1v1h-1zM471 63h1v1h-1zM477 77h1v1h-1zM465 74h1v1h-1zM464 61h1v1h-1zM459 55h1v1h-1zM457 58h1v1h-1zM457 53h1v1h-1zM458 55h1v1h-1zM457 53h1v1h-1zM461 60h1v1h-1zM454 55h1v1h-1zM463 58h1v1h-1zM457 58h1v1h-1zM453 59h1v1h-1zM461 55h1v1h-1zM458 55h1v1h-1zM460 54h1v1h-1zM460 57h1v1h-1zM455 56h1v1h-1zM465 56h1v1h-1zM463 52h1v1h-1zM458 54h1v1h-1zM460 53h1v1h-1zM465 50h1v1h-1zM459 56h1v1h-1zM463 52h1v1h-1zM462 59h1v1h-1zM459 55h1v1h-1zM459 59h1v1h-1zM463 56h1v1h-1zM461 55h1v1h-1zM462 58h1v1h-1zM460 56h1v1h-1zM463 55h1v1h-1zM458 55h1v1h-1zM464 60h1v1h-1zM464 64h1v1h-1zM457 61h1v1h-1zM461 64h1v1h-1zM457 57h1v1h-1zM457 57h1v1h-1zM459 53h1v1h-1zM456 59h1v1h-1zM457 58h1v1h-1zM462 55h1v1h-1zM464 51h1v1h-1zM459 58h1v1h-1zM461 52h1v1h-1zM458 53h1v1h-1zM459 55h1v1h-1zM463 55h1v1h-1zM461 51h1v1h-1zM458 59h1v1h-1zM458 51h1v1h-1zM460 57h1v1h-1zM457 62h1v1h-1zM459 53h1v1h-1zM456 62h1v1h-1zM463 50h1v1h-1zM458 50h1v1h-1zM464 57h1v1h-1zM458 55h1v1h-1zM462 58h1v1h-1zM459 62h1v1h-1zM457 51h1v1h-1zM463 52h1v1h-1zM465 57h1v1h-1zM455 56h1v1h-1zM454 54h1v1h-1zM466 58h1v1h-1zM463 57h1v1h-1zM461 58h1v1h-1zM460 56h1v1h-1zM461 54h1v1h-1zM457 56h1v1h-1zM460 51h1v1h-1zM457 64h1v1h-1zM459 54h1v1h-1zM461 56h1v1h-1zM458 55h1v1h-1zM459 55h1v1h-1zM459 57h1v1h-1zM461 52h1v1h-1zM461 53h1v1h-1zM476.2 76.6h1.2v1.2h-1.2zM467.7 58.8h1.2v1.2h-1.2zM465.4 65.4h1.2v1.2h-1.2zM467.4 52.2h1.2v1.2h-1.2zM480.9 57.9h1.2v1.2h-1.2zM487.1 60.8h1.2v1.2h-1.2zM460.8 46.5h1.2v1.2h-1.2zM463.2 69.5h1.2v1.2h-1.2zM475.4 56.8h1.2v1.2h-1.2zM466.6 54.5h1.2v1.2h-1.2zM467.1 75.8h1.2v1.2h-1.2zM460.0 57.8h1.2v1.2h-1.2zM453.0 74.7h1.2v1.2h-1.2zM461.5 43.6h1.2v1.2h-1.2zM481.7 52.3h1.2v1.2h-1.2zM452.9 68.1h1.2v1.2h-1.2zM442.5 50.7h1.2v1.2h-1.2zM449.1 73.2h1.2v1.2h-1.2zM437.9 48.6h1.2v1.2h-1.2zM467.3 65.8h1.2v1.2h-1.2zM466.2 74.2h1.2v1.2h-1.2zM472.3 72.9h1.2v1.2h-1.2zM474.1 70.9h1.2v1.2h-1.2zM455.4 68.8h1.2v1.2h-1.2zM471.4 69.8h1.2v1.2h-1.2zM462.3 64.1h1.2v1.2h-1.2zM452.4 71.4h1.2v1.2h-1.2zM461.9 58.9h1.2v1.2h-1.2zM455.2 58.4h1.2v1.2h-1.2zM460.6 67.3h1.2v1.2h-1.2zM477.7 64.7h1.2v1.2h-1.2zM472.3 72.5h1.2v1.2h-1.2zM468.4 60.8h1.2v1.2h-1.2zM441.5 62.7h1.2v1.2h-1.2zM466.0 64.8h1.2v1.2h-1.2zM464.8 83.4h1.2v1.2h-1.2zM413.4 53.4h1.2v1.2h-1.2zM419.4 53.4h1.2v1.2h-1.2zM425.4 54.4h1.2v1.2h-1.2zM429.4 51.4h1.2v1.2h-1.2zM425.4 59.4h1.2v1.2h-1.2zM421.4 61.4h1.2v1.2h-1.2zM431.4 65.4h1.2v1.2h-1.2zM420.4 45.4h1.2v1.2h-1.2zM430.4 30.4h1.2v1.2h-1.2zM410.4 57.4h1.2v1.2h-1.2zM415.4 65.4h1.2v1.2h-1.2zM419.4 92.4h1.2v1.2h-1.2zM424.4 94.4h1.2v1.2h-1.2zM426.4 99.4h1.2v1.2h-1.2zM427.4 109.4h1.2v1.2h-1.2zM419.4 112.4h1.2v1.2h-1.2zM410.4 103.4h1.2v1.2h-1.2zM461.5 131.2h1.2v1.2h-1.2zM465.4 105.9h1.2v1.2h-1.2zM458.4 121.4h1.2v1.2h-1.2zM463.2 114.3h1.2v1.2h-1.2zM459.4 95.1h1.2v1.2h-1.2zM473.5 126.7h1.2v1.2h-1.2zM467.2 88.0h1.2v1.2h-1.2zM458.8 89.2h1.2v1.2h-1.2zM458.0 97.2h1.2v1.2h-1.2zM457.8 110.0h1.2v1.2h-1.2zM474.0 97.9h1.2v1.2h-1.2zM471.7 132.8h1.2v1.2h-1.2zM463.3 102.2h1.2v1.2h-1.2zM456.8 90.6h1.2v1.2h-1.2zM468.7 130.1h1.2v1.2h-1.2zM456.2 88.8h1.2v1.2h-1.2zM457.0 319.7h1.2v1.2h-1.2zM453.8 302.3h1.2v1.2h-1.2zM466.7 284.5h1.2v1.2h-1.2zM477.0 309.3h1.2v1.2h-1.2zM470.7 291.9h1.2v1.2h-1.2zM448.2 308.6h1.2v1.2h-1.2zM462.1 314.4h1.2v1.2h-1.2zM464.7 314.1h1.2v1.2h-1.2zM470.0 311.8h1.2v1.2h-1.2zM466.8 299.6h1.2v1.2h-1.2zM457.3 304.6h1.2v1.2h-1.2zM459.1 284.9h1.2v1.2h-1.2zM454.0 306.5h1.2v1.2h-1.2zM468.1 302.3h1.2v1.2h-1.2zM455.4 295.9h1.2v1.2h-1.2zM467.9 289.2h1.2v1.2h-1.2zM455.8 296.7h1.2v1.2h-1.2zM459.7 320.0h1.2v1.2h-1.2zM463.4 295.5h1.2v1.2h-1.2zM463.8 303.4h1.2v1.2h-1.2zM475.8 292.6h1.2v1.2h-1.2zM464.4 288.9h1.2v1.2h-1.2zM463.9 315.1h1.2v1.2h-1.2zM461.1 298.8h1.2v1.2h-1.2zM475.5 304.3h1.2v1.2h-1.2zM464.4 300.8h1.2v1.2h-1.2zM464.0 297.3h1.2v1.2h-1.2zM462.0 294.7h1.2v1.2h-1.2zM461.8 298.6h1.2v1.2h-1.2zM460.9 315.9h1.2v1.2h-1.2zM472.5 298.6h1.2v1.2h-1.2zM454.5 293.4h1.2v1.2h-1.2zM466.5 307.7h1.2v1.2h-1.2zM460.8 306.1h1.2v1.2h-1.2zM462.9 307.0h1.2v1.2h-1.2zM461.2 293.3h1.2v1.2h-1.2zM458.8 309.1h1.2v1.2h-1.2zM468.6 317.9h1.2v1.2h-1.2zM475.9 312.0h1.2v1.2h-1.2zM463.1 300.0h1.2v1.2h-1.2zM467.9 296.1h1.2v1.2h-1.2zM461.1 289.4h1.2v1.2h-1.2zM449.3 307.5h1.2v1.2h-1.2zM454.6 303.0h1.2v1.2h-1.2zM464.5 292.8h1.2v1.2h-1.2zM467.7 316.6h1.2v1.2h-1.2zM414.4 275.9h1.2v1.2h-1.2zM421.9 279.4h1.2v1.2h-1.2zM429.4 272.1h1.2v1.2h-1.2zM404.4 285.4h1.2v1.2h-1.2zM419.4 289.4h1.2v1.2h-1.2zM416.4 305.4h1.2v1.2h-1.2zM405.4 312.4h1.2v1.2h-1.2zM415.4 312.4h1.2v1.2h-1.2zM429.4 317.4h1.2v1.2h-1.2zM433.4 286.4h1.2v1.2h-1.2zM446.4 286.4h1.2v1.2h-1.2z" fill="#222222"/><path d="M50 151h1v1h-1zM41 146h1v1h-1zM29 154h1v1h-1zM37 151h1v1h-1zM26 156h1v1h-1zM24 160h1v1h-1zM34 147h1v1h-1zM25 154h1v1h-1zM35 155h1v1h-1zM49 152h1v1h-1zM43 156h1v1h-1zM23 152h1v1h-1zM30 152h1v1h-1zM47 149h1v1h-1zM41 163h1v1h-1zM33 148h1v1h-1zM42 146h1v1h-1zM27 150h1v1h-1zM38 153h1v1h-1zM32 149h1v1h-1zM31 157h1v1h-1zM28 160h1v1h-1zM33 158h1v1h-1zM41 149h1v1h-1zM31 158h1v1h-1zM42 150h1v1h-1zM22 158h1v1h-1zM35 150h1v1h-1zM49 157h1v1h-1zM30 158h1v1h-1zM46 148h1v1h-1zM29 147h1v1h-1zM23 150h1v1h-1zM26 159h1v1h-1zM26 158h1v1h-1zM43 155h1v1h-1zM27 163h1v1h-1zM24 158h1v1h-1zM28 160h1v1h-1zM28 152h1v1h-1zM43 152h1v1h-1zM34 156h1v1h-1zM45 150h1v1h-1zM25 155h1v1h-1zM33 150h1v1h-1zM38 158h1v1h-1zM23 160h1v1h-1zM28 160h1v1h-1zM39 161h1v1h-1zM32 162h1v1h-1zM37 154h1v1h-1zM23 158h1v1h-1zM37 161h1v1h-1zM28 149h1v1h-1zM25 156h1v1h-1zM31 152h1v1h-1zM36 165h1v1h-1zM48 158h1v1h-1zM33 146h1v1h-1zM40 161h1v1h-1zM38 148h1v1h-1zM37 149h1v1h-1zM28 163h1v1h-1zM27 148h1v1h-1zM45 161h1v1h-1zM33 165h1v1h-1zM38 157h1v1h-1zM22 157h1v1h-1zM39 158h1v1h-1zM35 163h1v1h-1zM29 158h1v1h-1zM41 149h1v1h-1zM29 148h1v1h-1zM38 147h1v1h-1zM51 152h1v1h-1zM32 162h1v1h-1zM39 155h1v1h-1zM30 152h1v1h-1zM32 151h1v1h-1zM26 152h1v1h-1zM35 150h1v1h-1zM26 158h1v1h-1zM45 161h1v1h-1zM32 163h1v1h-1zM22 158h1v1h-1zM50 151h1v1h-1zM33 150h1v1h-1zM40 152h1v1h-1zM26 160h1v1h-1zM51 155h1v1h-1zM39 150h1v1h-1zM31 147h1v1h-1zM36 159h1v1h-1zM40 157h1v1h-1zM46 160h1v1h-1zM34 164h1v1h-1zM37 151h1v1h-1zM32 162h1v1h-1zM31 152h1v1h-1zM47 148h1v1h-1zM34 161h1v1h-1zM37 150h1v1h-1zM29 150h1v1h-1zM35 149h1v1h-1zM35 152h1v1h-1zM34 149h1v1h-1zM33 163h1v1h-1zM35 164h1v1h-1zM44 153h1v1h-1zM27 156h1v1h-1zM41 156h1v1h-1zM27 154h1v1h-1zM49 159h1v1h-1zM40 150h1v1h-1zM23 158h1v1h-1zM34 158h1v1h-1zM48 159h1v1h-1zM51 152h1v1h-1zM32 161h1v1h-1zM25 150h1v1h-1zM24 152h1v1h-1zM28 152h1v1h-1zM26 155h1v1h-1zM41 148h1v1h-1zM25 153h1v1h-1zM26 162h1v1h-1zM39 151h1v1h-1zM50 150h1v1h-1zM33 159h1v1h-1zM41 162h1v1h-1zM26 156h1v1h-1zM29 155h1v1h-1zM23 154h1v1h-1zM45 160h1v1h-1zM38 153h1v1h-1zM42 151h1v1h-1zM40 158h1v1h-1zM48 157h1v1h-1zM30 162h1v1h-1zM36 161h1v1h-1zM41 153h1v1h-1zM31 164h1v1h-1zM47 163h1v1h-1zM30 157h1v1h-1zM46 163h1v1h-1zM28 156h1v1h-1zM49 150h1v1h-1zM49 152h1v1h-1zM45 157h1v1h-1zM23 157h1v1h-1zM35 145h1v1h-1zM31 148h1v1h-1zM36 158h1v1h-1zM35 148h1v1h-1zM27 161h1v1h-1zM44 152h1v1h-1zM49 150h1v1h-1zM35 167h1v1h-1zM32 150h1v1h-1zM17 159h1v1h-1zM36 164h1v1h-1zM47 173h1v1h-1zM36 150h1v1h-1zM34 157h1v1h-1zM27 141h1v1h-1zM34 165h1v1h-1zM20 151h1v1h-1zM20 151h1v1h-1zM33 154h1v1h-1zM29 163h1v1h-1zM44 155h1v1h-1zM50 149h1v1h-1zM51 147h1v1h-1zM44 152h1v1h-1zM20 152h1v1h-1zM35 161h1v1h-1zM32 154h1v1h-1zM26 159h1v1h-1zM52 168h1v1h-1zM39 166h1v1h-1zM40 175h1v1h-1zM39 161h1v1h-1zM31 150h1v1h-1zM24 158h1v1h-1zM59 148h1v1h-1zM45 144h1v1h-1zM31 170h1v1h-1zM38 161h1v1h-1zM40 159h1v1h-1zM29 161h1v1h-1zM40 146h1v1h-1zM31 166h1v1h-1zM42 153h1v1h-1zM48 167h1v1h-1zM38 162h1v1h-1zM20 145h1v1h-1zM50 147h1v1h-1zM18 164h1v1h-1zM46 154h1v1h-1zM19 155h1v1h-1zM43 161h1v1h-1zM39 161h1v1h-1zM37 160h1v1h-1zM50 158h1v1h-1zM42 148h1v1h-1zM26 156h1v1h-1zM51 154h1v1h-1zM23 140h1v1h-1zM41 142h1v1h-1zM31 165h1v1h-1zM39 152h1v1h-1zM20 163h1v1h-1zM55 148h1v1h-1zM33 162h1v1h-1zM45 156h1v1h-1zM47 152h1v1h-1zM50 151h1v1h-1zM24 160h1v1h-1zM29 170h1v1h-1zM44 157h1v1h-1zM54 153h1v1h-1zM35 148h1v1h-1zM58 157h1v1h-1zM36 152h1v1h-1zM33 155h1v1h-1zM33 166h1v1h-1zM22 161h1v1h-1zM23 153h1v1h-1zM42 139h1v1h-1zM29 159h1v1h-1zM33 150h1v1h-1zM95 155h1v1h-1zM90 151h1v1h-1zM100 153h1v1h-1zM95 152h1v1h-1zM99 156h1v1h-1zM85 139h1v1h-1zM98 151h1v1h-1zM91 141h1v1h-1zM91 151h1v1h-1zM94 148h1v1h-1zM96 160h1v1h-1zM103 155h1v1h-1zM96 151h1v1h-1zM97 147h1v1h-1zM95 151h1v1h-1zM93 153h1v1h-1zM98 148h1v1h-1zM88 155h1v1h-1zM99 157h1v1h-1zM98 148h1v1h-1zM89 154h1v1h-1zM102 156h1v1h-1zM96 152h1v1h-1zM84 149h1v1h-1zM87 152h1v1h-1zM94 147h1v1h-1zM85 148h1v1h-1zM92 150h1v1h-1zM92 151h1v1h-1zM95 156h1v1h-1zM96 158h1v1h-1zM89 147h1v1h-1zM94 152h1v1h-1zM97 155h1v1h-1zM97 155h1v1h-1zM94 151h1v1h-1zM87 151h1v1h-1zM93 150h1v1h-1zM92 155h1v1h-1zM104 149h1v1h-1zM94 156h1v1h-1zM102 156h1v1h-1zM93 164h1v1h-1zM97 150h1v1h-1zM91 154h1v1h-1zM93 145h1v1h-1zM88 147h1v1h-1zM99 149h1v1h-1zM91 150h1v1h-1zM94 147h1v1h-1zM94 150h1v1h-1zM96 144h1v1h-1zM103 151h1v1h-1zM103 150h1v1h-1zM96 160h1v1h-1zM94 155h1v1h-1zM95 150h1v1h-1zM100 154h1v1h-1zM90 153h1v1h-1zM92 153h1v1h-1zM93 155h1v1h-1zM94 153h1v1h-1zM108 158h1v1h-1zM96 152h1v1h-1zM92 149h1v1h-1zM102 149h1v1h-1zM97 156h1v1h-1zM89 144h1v1h-1zM97 158h1v1h-1zM99 145h1v1h-1zM94 153h1v1h-1zM94 150h1v1h-1zM94 147h1v1h-1zM93 149h1v1h-1zM91 161h1v1h-1zM97 154h1v1h-1zM97 147h1v1h-1zM89 152h1v1h-1zM96 151h1v1h-1zM93 152h1v1h-1zM88 150h1v1h-1zM90 154h1v1h-1zM96 147h1v1h-1zM94 155h1v1h-1zM93 158h1v1h-1zM96 155h1v1h-1zM98 155h1v1h-1zM94 147h1v1h-1zM90 156h1v1h-1zM101 154h1v1h-1zM94 155h1v1h-1zM98 152h1v1h-1zM91 155h1v1h-1zM96 156h1v1h-1zM92 154h1v1h-1zM91 151h1v1h-1zM96 149h1v1h-1zM94 141h1v1h-1zM101 154h1v1h-1zM97 154h1v1h-1zM93 153h1v1h-1zM88 146h1v1h-1zM101 146h1v1h-1zM98 156h1v1h-1zM95 144h1v1h-1zM97 154h1v1h-1zM93 139h1v1h-1zM91 151h1v1h-1zM88 145h1v1h-1zM94 152h1v1h-1zM95 145h1v1h-1zM90 154h1v1h-1zM96 149h1v1h-1zM94 146h1v1h-1zM101 155h1v1h-1zM97 153h1v1h-1zM96 153h1v1h-1zM99 150h1v1h-1zM98 157h1v1h-1zM95 140h1v1h-1zM94 155h1v1h-1zM89 147h1v1h-1zM85 146h1v1h-1zM94 148h1v1h-1zM97 154h1v1h-1zM90 143h1v1h-1zM89 151h1v1h-1zM89 151h1v1h-1zM95 151h1v1h-1zM86 148h1v1h-1zM96 152h1v1h-1zM90 150h1v1h-1zM88 152h1v1h-1zM91 153h1v1h-1zM99 145h1v1h-1zM99 157h1v1h-1zM92 148h1v1h-1zM99 150h1v1h-1zM92 143h1v1h-1zM98 153h1v1h-1zM90 150h1v1h-1zM88 144h1v1h-1zM94 146h1v1h-1zM94 152h1v1h-1zM92 147h1v1h-1zM95 151h1v1h-1zM86 158h1v1h-1zM97 155h1v1h-1zM88 142h1v1h-1zM91 155h1v1h-1zM94 156h1v1h-1zM99 155h1v1h-1zM91 151h1v1h-1zM89 149h1v1h-1zM100 157h1v1h-1zM95 150h1v1h-1zM96 152h1v1h-1zM92 155h1v1h-1zM85 154h1v1h-1zM89 155h1v1h-1zM94 151h1v1h-1zM101 149h1v1h-1zM90 153h1v1h-1zM93 149h1v1h-1zM92 155h1v1h-1zM102 156h1v1h-1zM86 154h1v1h-1zM93 150h1v1h-1zM93 147h1v1h-1zM93 151h1v1h-1zM98 157h1v1h-1zM94 149h1v1h-1zM91 146h1v1h-1zM89 149h1v1h-1zM95 155h1v1h-1zM99 163h1v1h-1zM89 149h1v1h-1zM94 153h1v1h-1zM96 144h1v1h-1zM93 160h1v1h-1zM96 153h1v1h-1zM90 150h1v1h-1zM99 156h1v1h-1zM95 153h1v1h-1zM85 152h1v1h-1zM101 148h1v1h-1zM95 147h1v1h-1zM93 150h1v1h-1zM98 150h1v1h-1zM94 156h1v1h-1zM92 150h1v1h-1zM96 145h1v1h-1zM90 152h1v1h-1zM97 156h1v1h-1zM89 149h1v1h-1zM101 155h1v1h-1zM90 154h1v1h-1zM87 155h1v1h-1zM98 152h1v1h-1zM101 157h1v1h-1zM93 146h1v1h-1zM84 149h1v1h-1zM100 150h1v1h-1zM93 152h1v1h-1zM99 155h1v1h-1zM94 156h1v1h-1zM85 148h1v1h-1zM90 144h1v1h-1zM92 144h1v1h-1zM93 151h1v1h-1zM92 147h1v1h-1zM93 151h1v1h-1zM93 144h1v1h-1zM96 150h1v1h-1zM94 153h1v1h-1zM94 147h1v1h-1zM92 149h1v1h-1zM94 151h1v1h-1zM96 152h1v1h-1zM88 147h1v1h-1zM92 153h1v1h-1zM96 151h1v1h-1zM91 160h1v1h-1zM85 145h1v1h-1zM90 149h1v1h-1zM94 152h1v1h-1zM86 130h1v1h-1zM90 142h1v1h-1zM74 145h1v1h-1zM91 152h1v1h-1zM97 147h1v1h-1zM87 159h1v1h-1zM87 145h1v1h-1zM94 147h1v1h-1zM85 149h1v1h-1zM95 145h1v1h-1zM89 151h1v1h-1zM78 141h1v1h-1zM87 145h1v1h-1zM86 147h1v1h-1zM92 159h1v1h-1zM94 156h1v1h-1zM81 145h1v1h-1zM79 150h1v1h-1zM85 153h1v1h-1zM81 159h1v1h-1zM89 125h1v1h-1zM79 140h1v1h-1zM87 153h1v1h-1zM95 146h1v1h-1zM94 148h1v1h-1zM93 146h1v1h-1zM91 144h1v1h-1zM81 151h1v1h-1zM96 147h1v1h-1zM83 144h1v1h-1zM80 151h1v1h-1zM99 155h1v1h-1zM85 144h1v1h-1zM79 149h1v1h-1zM92 146h1v1h-1zM91 152h1v1h-1zM85 127h1v1h-1zM91 142h1v1h-1zM78 139h1v1h-1zM98 150h1v1h-1zM101 162h1v1h-1zM93 151h1v1h-1zM87 144h1v1h-1zM96 155h1v1h-1zM93 151h1v1h-1zM81 145h1v1h-1zM79 145h1v1h-1zM80 141h1v1h-1zM87 146h1v1h-1zM81 144h1v1h-1zM96 145h1v1h-1zM83 144h1v1h-1zM95 149h1v1h-1zM85 149h1v1h-1zM80 139h1v1h-1zM88 156h1v1h-1zM92 133h1v1h-1zM83 141h1v1h-1zM94 144h1v1h-1zM92 148h1v1h-1zM94 134h1v1h-1zM85 151h1v1h-1zM82 143h1v1h-1zM96 145h1v1h-1zM91 151h1v1h-1zM88 143h1v1h-1zM97 150h1v1h-1zM96 154h1v1h-1zM84 148h1v1h-1zM78 150h1v1h-1zM83 148h1v1h-1zM80 139h1v1h-1zM87 145h1v1h-1zM104 150h1v1h-1zM94 139h1v1h-1zM90 148h1v1h-1zM86 146h1v1h-1zM72 151h1v1h-1zM86 148h1v1h-1zM87 151h1v1h-1zM275 147h1v1h-1zM278 152h1v1h-1zM270 151h1v1h-1zM274 152h1v1h-1zM272 150h1v1h-1zM276 148h1v1h-1zM269 150h1v1h-1zM273 151h1v1h-1zM275 152h1v1h-1zM284 156h1v1h-1zM277 152h1v1h-1zM274 145h1v1h-1zM278 152h1v1h-1zM277 152h1v1h-1zM277 155h1v1h-1zM281 148h1v1h-1zM279 153h1v1h-1zM270 149h1v1h-1zM283 153h1v1h-1zM283 151h1v1h-1zM276 148h1v1h-1zM271 145h1v1h-1zM272 146h1v1h-1zM276 153h1v1h-1zM277 150h1v1h-1zM280 156h1v1h-1zM275 148h1v1h-1zM281 151h1v1h-1zM271 145h1v1h-1zM282 153h1v1h-1zM279 155h1v1h-1zM282 153h1v1h-1zM279 156h1v1h-1zM284 154h1v1h-1zM275 148h1v1h-1zM275 147h1v1h-1zM269 141h1v1h-1zM280 149h1v1h-1zM276 153h1v1h-1zM282 151h1v1h-1zM276 149h1v1h-1zM273 144h1v1h-1zM277 151h1v1h-1zM270 146h1v1h-1zM275 154h1v1h-1zM273 147h1v1h-1zM284 150h1v1h-1zM279 151h1v1h-1zM275 150h1v1h-1zM271 147h1v1h-1zM273 154h1v1h-1zM280 149h1v1h-1zM271 146h1v1h-1zM274 148h1v1h-1zM282 154h1v1h-1zM276 148h1v1h-1zM279 150h1v1h-1zM279 148h1v1h-1zM286 153h1v1h-1zM274 147h1v1h-1zM273 147h1v1h-1zM269 147h1v1h-1zM274 152h1v1h-1zM281 152h1v1h-1zM284 156h1v1h-1zM274 150h1v1h-1zM284 153h1v1h-1zM275 148h1v1h-1zM269 149h1v1h-1zM279 155h1v1h-1zM272 149h1v1h-1zM279 149h1v1h-1zM279 158h1v1h-1zM279 155h1v1h-1zM277 148h1v1h-1zM281 151h1v1h-1zM280 151h1v1h-1zM278 149h1v1h-1zM271 147h1v1h-1zM285 155h1v1h-1zM272 145h1v1h-1zM275 150h1v1h-1zM279 151h1v1h-1zM276 150h1v1h-1zM289 160h1v1h-1zM264 144h1v1h-1zM276 147h1v1h-1zM275 149h1v1h-1zM276 147h1v1h-1zM271 149h1v1h-1zM276 150h1v1h-1zM278 144h1v1h-1zM282 151h1v1h-1zM278 155h1v1h-1zM282 152h1v1h-1zM277 149h1v1h-1zM288 151h1v1h-1zM270 148h1v1h-1zM277 155h1v1h-1zM283 154h1v1h-1zM277 150h1v1h-1zM269 147h1v1h-1zM267 146h1v1h-1zM285 152h1v1h-1zM277 149h1v1h-1zM280 150h1v1h-1zM273 151h1v1h-1zM269 149h1v1h-1zM278 150h1v1h-1zM279 153h1v1h-1zM281 153h1v1h-1zM268 144h1v1h-1zM281 145h1v1h-1zM275 149h1v1h-1zM273 151h1v1h-1zM275 149h1v1h-1zM271 147h1v1h-1zM265 147h1v1h-1zM282 152h1v1h-1zM283 151h1v1h-1zM273 150h1v1h-1zM282 150h1v1h-1zM279 154h1v1h-1zM268 147h1v1h-1zM274 150h1v1h-1zM278 147h1v1h-1zM276 148h1v1h-1zM272 147h1v1h-1zM278 154h1v1h-1zM273 145h1v1h-1zM273 150h1v1h-1zM275 143h1v1h-1zM274 149h1v1h-1zM275 150h1v1h-1zM275 152h1v1h-1zM266 145h1v1h-1zM270 150h1v1h-1zM270 142h1v1h-1zM272 139h1v1h-1zM285 149h1v1h-1zM277 164h1v1h-1zM282 152h1v1h-1zM279 152h1v1h-1zM278 146h1v1h-1zM269 152h1v1h-1zM270 149h1v1h-1zM276 148h1v1h-1zM273 142h1v1h-1zM269 150h1v1h-1zM259 146h1v1h-1zM254 150h1v1h-1zM273 141h1v1h-1zM272 145h1v1h-1zM268 147h1v1h-1zM264 146h1v1h-1zM262 129h1v1h-1zM279 148h1v1h-1zM273 146h1v1h-1zM271 145h1v1h-1zM280 150h1v1h-1zM275 153h1v1h-1zM280 154h1v1h-1zM277 155h1v1h-1zM270 142h1v1h-1zM212.4 144.4h1.2v1.2h-1.2zM236.4 147.4h1.2v1.2h-1.2zM227.4 169.4h1.2v1.2h-1.2zM238.4 196.4h1.2v1.2h-1.2zM237.4 200.4h1.2v1.2h-1.2zM235.4 202.4h1.2v1.2h-1.2zM215.4 208.4h1.2v1.2h-1.2zM474 77h1v1h-1zM466 59h1v1h-1zM470 67h1v1h-1zM470 79h1v1h-1zM464 64h1v1h-1zM478 62h1v1h-1zM462 66h1v1h-1zM470 67h1v1h-1zM463 67h1v1h-1zM466 64h1v1h-1zM470 66h1v1h-1zM462 58h1v1h-1zM460 72h1v1h-1zM474 56h1v1h-1zM461 76h1v1h-1zM476 63h1v1h-1zM458 65h1v1h-1zM469 78h1v1h-1zM474 75h1v1h-1zM471 61h1v1h-1zM460 71h1v1h-1zM470 65h1v1h-1zM472 55h1v1h-1zM471 65h1v1h-1zM470 74h1v1h-1zM462 65h1v1h-1zM474 73h1v1h-1zM476 73h1v1h-1zM466 61h1v1h-1zM466 61h1v1h-1zM470 63h1v1h-1zM470 65h1v1h-1zM467 58h1v1h-1zM464 65h1v1h-1zM459 63h1v1h-1zM471 72h1v1h-1zM459 63h1v1h-1zM467 59h1v1h-1zM468 74h1v1h-1zM475 61h1v1h-1zM467 63h1v1h-1zM475 69h1v1h-1zM465 61h1v1h-1zM463 73h1v1h-1zM464 77h1v1h-1zM469 63h1v1h-1zM460 76h1v1h-1zM475 66h1v1h-1zM459 62h1v1h-1zM474 74h1v1h-1zM476 70h1v1h-1zM475 58h1v1h-1zM467 57h1v1h-1zM463 66h1v1h-1zM476 64h1v1h-1zM469 70h1v1h-1zM467 70h1v1h-1zM476 75h1v1h-1zM461 58h1v1h-1zM475 59h1v1h-1zM472 55h1v1h-1zM467 56h1v1h-1zM464 73h1v1h-1zM474 73h1v1h-1zM468 61h1v1h-1zM470 69h1v1h-1zM474 64h1v1h-1zM464 74h1v1h-1zM469 79h1v1h-1zM470 60h1v1h-1zM472 74h1v1h-1zM473 63h1v1h-1zM477 67h1v1h-1zM476 71h1v1h-1zM472 73h1v1h-1zM473 70h1v1h-1zM471 58h1v1h-1zM466 55h1v1h-1zM470 71h1v1h-1zM465 63h1v1h-1zM475 60h1v1h-1zM473 57h1v1h-1zM473 77h1v1h-1zM469 68h1v1h-1zM464 69h1v1h-1zM473 58h1v1h-1zM474 58h1v1h-1zM462 75h1v1h-1zM460 71h1v1h-1zM475 77h1v1h-1zM472 63h1v1h-1zM466 74h1v1h-1zM464 59h1v1h-1zM475 69h1v1h-1zM473 60h1v1h-1zM464 66h1v1h-1zM467 56h1v1h-1zM467 72h1v1h-1zM472 59h1v1h-1zM468 65h1v1h-1zM467 64h1v1h-1zM465 79h1v1h-1zM476 63h1v1h-1zM472 59h1v1h-1zM473 56h1v1h-1zM466 61h1v1h-1zM463 55h1v1h-1zM463 60h1v1h-1zM476 70h1v1h-1zM465 57h1v1h-1zM464 76h1v1h-1zM471 56h1v1h-1zM474 75h1v1h-1zM473 77h1v1h-1zM462 77h1v1h-1zM468 61h1v1h-1zM468 55h1v1h-1zM471 54h1v1h-1zM473 71h1v1h-1zM468 54h1v1h-1zM468 64h1v1h-1zM471 67h1v1h-1zM468 55h1v1h-1zM467 61h1v1h-1zM462 59h1v1h-1zM463 74h1v1h-1zM473 58h1v1h-1zM475 71h1v1h-1zM472 74h1v1h-1zM465 69h1v1h-1zM470 57h1v1h-1zM465 69h1v1h-1zM463 75h1v1h-1zM468 56h1v1h-1zM461 63h1v1h-1zM465 60h1v1h-1zM468 70h1v1h-1zM478 64h1v1h-1zM475 59h1v1h-1zM464 75h1v1h-1zM475 61h1v1h-1zM458 67h1v1h-1zM472 72h1v1h-1zM478 62h1v1h-1zM462 56h1v1h-1zM472 69h1v1h-1zM460 60h1v1h-1zM473 66h1v1h-1zM472 65h1v1h-1zM464 70h1v1h-1zM475 73h1v1h-1zM487 78h1v1h-1zM473 70h1v1h-1zM472 60h1v1h-1zM472 68h1v1h-1zM467 63h1v1h-1zM470 66h1v1h-1zM466 72h1v1h-1zM472 62h1v1h-1zM472 72h1v1h-1zM468 70h1v1h-1zM467 77h1v1h-1zM468 70h1v1h-1zM474 65h1v1h-1zM460 71h1v1h-1zM469 62h1v1h-1zM476 63h1v1h-1zM470 61h1v1h-1zM474 64h1v1h-1zM470 64h1v1h-1zM466 68h1v1h-1zM456 67h1v1h-1zM475 77h1v1h-1zM468 67h1v1h-1zM474 67h1v1h-1zM475 66h1v1h-1zM463 68h1v1h-1zM464 66h1v1h-1zM470 76h1v1h-1zM479 80h1v1h-1zM475 74h1v1h-1zM460 54h1v1h-1zM473 79h1v1h-1zM466 63h1v1h-1zM467 63h1v1h-1zM466 77h1v1h-1zM470 73h1v1h-1zM470 70h1v1h-1zM472 61h1v1h-1zM469 60h1v1h-1zM466 60h1v1h-1zM461 60h1v1h-1zM476 75h1v1h-1zM476 70h1v1h-1zM476 68h1v1h-1zM464 69h1v1h-1zM460 78h1v1h-1zM468 67h1v1h-1zM464 73h1v1h-1zM460 65h1v1h-1zM468 72h1v1h-1zM469 72h1v1h-1zM466 66h1v1h-1zM469 58h1v1h-1zM464 72h1v1h-1zM474 67h1v1h-1zM481 74h1v1h-1zM469 68h1v1h-1zM476 77h1v1h-1zM474 72h1v1h-1zM466 66h1v1h-1zM463 69h1v1h-1zM471 83h1v1h-1zM475 63h1v1h-1zM474 71h1v1h-1zM463 69h1v1h-1zM481 73h1v1h-1zM468 66h1v1h-1zM464 64h1v1h-1zM469 69h1v1h-1zM461 75h1v1h-1zM471 73h1v1h-1zM473 67h1v1h-1zM471 71h1v1h-1zM473 68h1v1h-1zM474 65h1v1h-1zM470 69h1v1h-1zM468 71h1v1h-1zM467 64h1v1h-1zM471 63h1v1h-1zM467 60h1v1h-1zM468 75h1v1h-1zM465 60h1v1h-1zM467 72h1v1h-1zM469 63h1v1h-1zM471 69h1v1h-1zM473 67h1v1h-1zM469 65h1v1h-1zM471 69h1v1h-1zM477 64h1v1h-1zM468 68h1v1h-1zM471 58h1v1h-1zM475 69h1v1h-1zM473 74h1v1h-1zM473 74h1v1h-1zM469 71h1v1h-1zM471 70h1v1h-1zM472 67h1v1h-1zM470 66h1v1h-1zM468 65h1v1h-1zM463 52h1v1h-1zM464 54h1v1h-1zM464 59h1v1h-1zM458 57h1v1h-1zM460 56h1v1h-1zM457 58h1v1h-1zM461 56h1v1h-1zM461 52h1v1h-1zM461 53h1v1h-1zM456 58h1v1h-1zM464 53h1v1h-1zM461 52h1v1h-1zM458 56h1v1h-1zM461 60h1v1h-1zM460 58h1v1h-1zM464 59h1v1h-1zM459 57h1v1h-1zM462 57h1v1h-1zM462 59h1v1h-1zM458 57h1v1h-1zM457 56h1v1h-1zM459 59h1v1h-1zM460 61h1v1h-1zM464 54h1v1h-1zM458 58h1v1h-1zM460 59h1v1h-1zM462 57h1v1h-1zM460 52h1v1h-1zM453 58h1v1h-1zM460 56h1v1h-1zM460 57h1v1h-1zM462 56h1v1h-1zM458 54h1v1h-1zM458 55h1v1h-1zM461 53h1v1h-1zM464 55h1v1h-1zM455 55h1v1h-1zM461 56h1v1h-1zM460 54h1v1h-1zM463 55h1v1h-1zM454.0 62.0h1.2v1.2h-1.2zM460.1 61.9h1.2v1.2h-1.2zM473.3 56.5h1.2v1.2h-1.2zM464.8 64.6h1.2v1.2h-1.2zM476.1 67.4h1.2v1.2h-1.2zM465.1 54.5h1.2v1.2h-1.2zM442.8 72.9h1.2v1.2h-1.2zM455.4 43.3h1.2v1.2h-1.2zM445.2 66.3h1.2v1.2h-1.2zM461.7 71.8h1.2v1.2h-1.2zM465.4 65.4h1.2v1.2h-1.2zM450.3 75.6h1.2v1.2h-1.2zM474.2 65.0h1.2v1.2h-1.2zM461.6 46.2h1.2v1.2h-1.2zM452.0 88.4h1.2v1.2h-1.2zM466.0 51.1h1.2v1.2h-1.2zM477.4 63.1h1.2v1.2h-1.2zM481.0 67.1h1.2v1.2h-1.2zM461.9 69.6h1.2v1.2h-1.2zM476.5 44.8h1.2v1.2h-1.2zM486.1 70.2h1.2v1.2h-1.2zM417.4 61.4h1.2v1.2h-1.2zM408.4 72.4h1.2v1.2h-1.2zM416.4 77.4h1.2v1.2h-1.2zM428.4 42.4h1.2v1.2h-1.2zM422.4 49.4h1.2v1.2h-1.2zM425.4 104.4h1.2v1.2h-1.2zM427.4 114.4h1.2v1.2h-1.2zM414.4 107.4h1.2v1.2h-1.2zM419.4 126.4h1.2v1.2h-1.2zM462.3 124.9h1.2v1.2h-1.2zM471.2 93.3h1.2v1.2h-1.2zM462.0 137.3h1.2v1.2h-1.2zM475.6 115.2h1.2v1.2h-1.2zM471.2 123.3h1.2v1.2h-1.2zM467.2 120.8h1.2v1.2h-1.2zM463.9 122.1h1.2v1.2h-1.2zM462.6 96.5h1.2v1.2h-1.2zM457.3 296.0h1.2v1.2h-1.2zM430.2 278.4h1.2v1.2h-1.2zM410.4 291.4h1.2v1.2h-1.2zM420.4 296.4h1.2v1.2h-1.2zM397.4 300.4h1.2v1.2h-1.2zM417.4 317.4h1.2v1.2h-1.2zM425.4 309.4h1.2v1.2h-1.2zM441.4 299.4h1.2v1.2h-1.2zM432.4 212.4h1.2v1.2h-1.2zM469.4 238.4h1.2v1.2h-1.2z" fill="#000000"/><path d="M47 166h1v1h-1zM50 167h1v1h-1zM45 175h1v1h-1zM40 175h1v1h-1zM37 176h1v1h-1zM52 173h1v1h-1zM47 168h1v1h-1zM46 176h1v1h-1zM46 176h1v1h-1zM38 171h1v1h-1zM45 168h1v1h-1zM51 173h1v1h-1zM49 167h1v1h-1zM50 170h1v1h-1zM43 176h1v1h-1zM33 169h1v1h-1zM39 167h1v1h-1zM38 171h1v1h-1zM42 177h1v1h-1zM39 176h1v1h-1zM51 172h1v1h-1zM41 172h1v1h-1zM40 164h1v1h-1zM44 165h1v1h-1zM33 167h1v1h-1zM37 165h1v1h-1zM35 171h1v1h-1zM44 170h1v1h-1zM39 167h1v1h-1zM41 170h1v1h-1zM40 174h1v1h-1zM45 172h1v1h-1zM47 173h1v1h-1zM45 176h1v1h-1zM42 169h1v1h-1zM44 175h1v1h-1zM46 172h1v1h-1zM45 167h1v1h-1zM38 165h1v1h-1zM50 171h1v1h-1zM41 164h1v1h-1zM42 167h1v1h-1zM36 168h1v1h-1zM41 173h1v1h-1zM50 171h1v1h-1zM38 170h1v1h-1zM37 175h1v1h-1zM43 165h1v1h-1zM38 170h1v1h-1zM42 174h1v1h-1zM49 169h1v1h-1zM35 175h1v1h-1zM39 175h1v1h-1zM49 172h1v1h-1zM41 165h1v1h-1zM35 165h1v1h-1zM52 172h1v1h-1zM41 164h1v1h-1zM36 171h1v1h-1zM34 170h1v1h-1zM41 170h1v1h-1zM46 165h1v1h-1zM50 173h1v1h-1zM33 172h1v1h-1zM43 173h1v1h-1zM35 173h1v1h-1zM43 172h1v1h-1zM45 170h1v1h-1zM51 169h1v1h-1zM50 168h1v1h-1zM33 169h1v1h-1zM49 172h1v1h-1zM40 165h1v1h-1zM44 168h1v1h-1zM34 166h1v1h-1zM47 166h1v1h-1zM44 169h1v1h-1zM49 172h1v1h-1zM40 177h1v1h-1zM41 176h1v1h-1zM44 169h1v1h-1zM45 175h1v1h-1zM42 174h1v1h-1zM48 170h1v1h-1zM36 172h1v1h-1zM48 175h1v1h-1zM41 175h1v1h-1zM49 170h1v1h-1zM50 173h1v1h-1zM40 164h1v1h-1zM38 165h1v1h-1zM45 169h1v1h-1zM47 170h1v1h-1zM34 172h1v1h-1zM35 165h1v1h-1zM42 165h1v1h-1zM31 172h1v1h-1zM43 173h1v1h-1zM33 167h1v1h-1zM35 173h1v1h-1zM41 175h1v1h-1zM46 167h1v1h-1zM49 169h1v1h-1zM40 187h1v1h-1zM46 178h1v1h-1zM42 176h1v1h-1zM47 174h1v1h-1zM40 171h1v1h-1zM47 177h1v1h-1zM41 171h1v1h-1zM40 186h1v1h-1zM36 179h1v1h-1zM51 170h1v1h-1zM36 182h1v1h-1zM46 178h1v1h-1zM36 167h1v1h-1zM47 184h1v1h-1zM44 174h1v1h-1zM41 173h1v1h-1zM43 174h1v1h-1zM40 183h1v1h-1zM35 176h1v1h-1zM42 173h1v1h-1zM44 168h1v1h-1zM43 170h1v1h-1zM47 174h1v1h-1zM53 177h1v1h-1zM45 171h1v1h-1zM46 173h1v1h-1zM55 175h1v1h-1zM44 170h1v1h-1zM45 175h1v1h-1zM48 178h1v1h-1zM49 176h1v1h-1zM43 182h1v1h-1zM39 183h1v1h-1zM50 172h1v1h-1zM45 186h1v1h-1zM45 177h1v1h-1zM46 176h1v1h-1zM41 180h1v1h-1zM47 181h1v1h-1zM45 171h1v1h-1zM34 181h1v1h-1zM36 185h1v1h-1zM41 175h1v1h-1zM58 172h1v1h-1zM46 174h1v1h-1zM39 180h1v1h-1zM37 181h1v1h-1zM35 180h1v1h-1zM47 163h1v1h-1zM47 169h1v1h-1zM40 171h1v1h-1zM45 175h1v1h-1zM20.1 145.7h1.2v1.2h-1.2zM42.2 157.0h1.2v1.2h-1.2zM50.0 146.0h1.2v1.2h-1.2zM23.2 148.3h1.2v1.2h-1.2zM39.1 159.8h1.2v1.2h-1.2zM38.2 162.5h1.2v1.2h-1.2zM38.8 152.5h1.2v1.2h-1.2zM36.2 150.0h1.2v1.2h-1.2zM22.8 148.5h1.2v1.2h-1.2zM58.6 151.5h1.2v1.2h-1.2zM23.5 147.3h1.2v1.2h-1.2zM34.6 162.7h1.2v1.2h-1.2zM51.1 140.7h1.2v1.2h-1.2zM32.6 165.2h1.2v1.2h-1.2zM25.3 146.5h1.2v1.2h-1.2zM21.7 152.9h1.2v1.2h-1.2zM41.7 147.4h1.2v1.2h-1.2zM38.2 145.3h1.2v1.2h-1.2zM35.8 156.0h1.2v1.2h-1.2zM31.8 136.7h1.2v1.2h-1.2zM39.5 147.3h1.2v1.2h-1.2zM42.3 156.2h1.2v1.2h-1.2zM19.7 141.8h1.2v1.2h-1.2zM28.5 142.9h1.2v1.2h-1.2zM38.3 143.9h1.2v1.2h-1.2zM44.8 140.8h1.2v1.2h-1.2zM32.8 137.5h1.2v1.2h-1.2zM36.5 141.2h1.2v1.2h-1.2zM42.1 204.9h1.2v1.2h-1.2zM24.6 190.6h1.2v1.2h-1.2zM39.7 211.1h1.2v1.2h-1.2zM48.0 186.8h1.2v1.2h-1.2zM49.1 201.7h1.2v1.2h-1.2zM54.4 184.9h1.2v1.2h-1.2zM47.8 183.7h1.2v1.2h-1.2zM29.8 192.9h1.2v1.2h-1.2zM55.2 223.5h1.2v1.2h-1.2zM56.2 192.1h1.2v1.2h-1.2zM47.4 202.5h1.2v1.2h-1.2zM33.1 214.3h1.2v1.2h-1.2zM38.8 177.7h1.2v1.2h-1.2zM31.7 187.8h1.2v1.2h-1.2zM16.7 188.4h1.2v1.2h-1.2zM43.7 190.0h1.2v1.2h-1.2zM38.8 178.3h1.2v1.2h-1.2zM43.7 219.9h1.2v1.2h-1.2zM36.9 189.3h1.2v1.2h-1.2zM26.5 199.0h1.2v1.2h-1.2zM33.9 178.1h1.2v1.2h-1.2zM49.6 193.5h1.2v1.2h-1.2zM23.3 212.8h1.2v1.2h-1.2zM35.7 213.4h1.2v1.2h-1.2zM38.6 206.9h1.2v1.2h-1.2zM26.5 212.1h1.2v1.2h-1.2zM39.9 217.6h1.2v1.2h-1.2zM18.9 184.5h1.2v1.2h-1.2zM36.9 210.0h1.2v1.2h-1.2zM27.2 193.4h1.2v1.2h-1.2zM21.8 214.4h1.2v1.2h-1.2zM46.5 188.0h1.2v1.2h-1.2zM50.0 196.9h1.2v1.2h-1.2zM31.6 199.7h1.2v1.2h-1.2zM39.8 197.8h1.2v1.2h-1.2zM50.7 215.8h1.2v1.2h-1.2zM44.7 184.1h1.2v1.2h-1.2zM43.8 214.5h1.2v1.2h-1.2zM57.9 185.5h1.2v1.2h-1.2zM20.4 195.1h1.2v1.2h-1.2zM43.5 208.9h1.2v1.2h-1.2zM24.9 209.1h1.2v1.2h-1.2zM45.1 207.7h1.2v1.2h-1.2zM40.9 202.6h1.2v1.2h-1.2zM16.9 195.4h1.2v1.2h-1.2zM45.5 190.1h1.2v1.2h-1.2zM38.3 184.1h1.2v1.2h-1.2zM36.8 197.0h1.2v1.2h-1.2zM34.0 193.1h1.2v1.2h-1.2zM25.9 179.6h1.2v1.2h-1.2zM33.8 188.3h1.2v1.2h-1.2zM43.2 183.6h1.2v1.2h-1.2zM38.4 207.4h1.2v1.2h-1.2zM34.5 177.5h1.2v1.2h-1.2zM38.7 187.9h1.2v1.2h-1.2zM47.2 198.4h1.2v1.2h-1.2zM44.8 204.1h1.2v1.2h-1.2zM37.4 188.1h1.2v1.2h-1.2zM56.1 193.6h1.2v1.2h-1.2zM53.9 187.5h1.2v1.2h-1.2zM55.7 216.2h1.2v1.2h-1.2zM57.6 182.7h1.2v1.2h-1.2zM27.4 188.1h1.2v1.2h-1.2zM27.8 195.8h1.2v1.2h-1.2zM52.7 202.4h1.2v1.2h-1.2zM54.4 179.5h1.2v1.2h-1.2zM57.6 182.0h1.2v1.2h-1.2zM49.5 198.5h1.2v1.2h-1.2zM49.5 186.1h1.2v1.2h-1.2zM41.6 189.7h1.2v1.2h-1.2zM101.2 154.9h1.2v1.2h-1.2zM67.7 144.1h1.2v1.2h-1.2zM73.0 160.4h1.2v1.2h-1.2zM84.0 148.9h1.2v1.2h-1.2zM77.4 160.7h1.2v1.2h-1.2zM86.3 134.8h1.2v1.2h-1.2zM64.2 143.5h1.2v1.2h-1.2zM99.3 147.5h1.2v1.2h-1.2zM71.4 149.1h1.2v1.2h-1.2zM65.9 153.2h1.2v1.2h-1.2zM75.9 161.4h1.2v1.2h-1.2zM91.1 173.0h1.2v1.2h-1.2zM70.1 152.6h1.2v1.2h-1.2zM79.8 154.4h1.2v1.2h-1.2zM71.5 162.5h1.2v1.2h-1.2zM74.2 181.1h1.2v1.2h-1.2zM65.2 219.0h1.2v1.2h-1.2zM77.3 196.9h1.2v1.2h-1.2zM68.9 180.1h1.2v1.2h-1.2zM63.8 179.9h1.2v1.2h-1.2zM89.7 194.6h1.2v1.2h-1.2zM90.9 192.1h1.2v1.2h-1.2zM64.9 193.9h1.2v1.2h-1.2zM67.8 202.5h1.2v1.2h-1.2zM62.8 189.3h1.2v1.2h-1.2zM104.5 184.7h1.2v1.2h-1.2zM74.9 227.6h1.2v1.2h-1.2zM91.3 200.3h1.2v1.2h-1.2zM67.6 182.1h1.2v1.2h-1.2zM73.0 200.8h1.2v1.2h-1.2zM75.6 201.7h1.2v1.2h-1.2zM93.8 223.9h1.2v1.2h-1.2zM86.6 186.7h1.2v1.2h-1.2zM67.5 224.3h1.2v1.2h-1.2zM94.4 206.4h1.2v1.2h-1.2zM66.3 180.3h1.2v1.2h-1.2zM65.1 178.3h1.2v1.2h-1.2zM89.2 196.9h1.2v1.2h-1.2zM280.7 156.9h1.2v1.2h-1.2zM275.6 159.1h1.2v1.2h-1.2zM269.4 122.6h1.2v1.2h-1.2zM269.4 137.7h1.2v1.2h-1.2zM275.4 151.9h1.2v1.2h-1.2zM259.4 153.5h1.2v1.2h-1.2zM260.2 150.4h1.2v1.2h-1.2zM263.0 157.1h1.2v1.2h-1.2zM273.3 149.1h1.2v1.2h-1.2zM272.4 140.4h1.2v1.2h-1.2zM269.7 158.9h1.2v1.2h-1.2zM264.5 157.8h1.2v1.2h-1.2zM254.2 161.5h1.2v1.2h-1.2zM279.5 164.7h1.2v1.2h-1.2zM263.6 170.9h1.2v1.2h-1.2zM260.6 167.2h1.2v1.2h-1.2zM270.6 158.2h1.2v1.2h-1.2zM273.8 162.3h1.2v1.2h-1.2zM257.8 172.3h1.2v1.2h-1.2zM279.4 170.4h1.2v1.2h-1.2zM283.8 218.3h1.2v1.2h-1.2zM261.1 202.3h1.2v1.2h-1.2zM282.0 184.6h1.2v1.2h-1.2zM271.0 195.5h1.2v1.2h-1.2zM280.5 189.5h1.2v1.2h-1.2zM260.1 189.4h1.2v1.2h-1.2zM261.6 198.6h1.2v1.2h-1.2zM264.4 216.0h1.2v1.2h-1.2zM270.2 187.6h1.2v1.2h-1.2zM279.7 203.0h1.2v1.2h-1.2zM270.2 200.8h1.2v1.2h-1.2zM461.8 72.1h1.2v1.2h-1.2zM476.2 71.5h1.2v1.2h-1.2zM460.9 66.1h1.2v1.2h-1.2zM464.0 89.0h1.2v1.2h-1.2zM456.9 64.4h1.2v1.2h-1.2zM451.2 50.4h1.2v1.2h-1.2zM474.6 85.7h1.2v1.2h-1.2zM465.6 64.5h1.2v1.2h-1.2zM468.8 72.5h1.2v1.2h-1.2zM467.3 59.4h1.2v1.2h-1.2zM462.0 58.5h1.2v1.2h-1.2zM439.5 56.8h1.2v1.2h-1.2zM475.8 51.2h1.2v1.2h-1.2zM462.6 67.5h1.2v1.2h-1.2zM461.5 78.9h1.2v1.2h-1.2zM454.4 60.4h1.2v1.2h-1.2zM466.9 59.8h1.2v1.2h-1.2zM464.1 292.6h1.2v1.2h-1.2zM460.2 315.1h1.2v1.2h-1.2zM465.2 311.4h1.2v1.2h-1.2zM473.2 298.4h1.2v1.2h-1.2zM469.5 287.1h1.2v1.2h-1.2zM465.1 288.0h1.2v1.2h-1.2zM460.7 312.0h1.2v1.2h-1.2zM458.7 299.0h1.2v1.2h-1.2zM474.4 298.5h1.2v1.2h-1.2zM464.2 310.4h1.2v1.2h-1.2zM459.4 306.9h1.2v1.2h-1.2zM453.9 298.9h1.2v1.2h-1.2zM462.1 294.0h1.2v1.2h-1.2zM448.1 293.3h1.2v1.2h-1.2zM454.5 314.3h1.2v1.2h-1.2zM474.4 313.4h1.2v1.2h-1.2zM468.6 291.9h1.2v1.2h-1.2zM467.7 305.6h1.2v1.2h-1.2zM461.2 300.6h1.2v1.2h-1.2zM468.0 306.4h1.2v1.2h-1.2zM471.5 300.4h1.2v1.2h-1.2zM472.1 309.6h1.2v1.2h-1.2zM457.6 289.3h1.2v1.2h-1.2zM458.7 309.2h1.2v1.2h-1.2zM469.4 284.3h1.2v1.2h-1.2zM474.3 313.2h1.2v1.2h-1.2zM469.0 314.8h1.2v1.2h-1.2zM466.3 312.5h1.2v1.2h-1.2zM456.7 306.9h1.2v1.2h-1.2zM459.2 316.2h1.2v1.2h-1.2zM458.6 313.4h1.2v1.2h-1.2zM454.4 292.7h1.2v1.2h-1.2zM449.0 303.4h1.2v1.2h-1.2zM457.7 300.4h1.2v1.2h-1.2zM471.0 290.9h1.2v1.2h-1.2zM476.8 292.1h1.2v1.2h-1.2zM468.8 293.5h1.2v1.2h-1.2zM460.3 297.6h1.2v1.2h-1.2zM466.7 299.2h1.2v1.2h-1.2zM460.6 309.8h1.2v1.2h-1.2z" fill="#666666"/><path d="M45 174h1v1h-1zM43 164h1v1h-1zM41 174h1v1h-1zM34 168h1v1h-1zM42 177h1v1h-1zM47 173h1v1h-1zM42 170h1v1h-1zM47 171h1v1h-1zM37 171h1v1h-1zM37 168h1v1h-1zM41 172h1v1h-1zM50 170h1v1h-1zM47 166h1v1h-1zM42 166h1v1h-1zM37 171h1v1h-1zM36 174h1v1h-1zM34 170h1v1h-1zM39 173h1v1h-1zM51 169h1v1h-1zM35 173h1v1h-1zM43 176h1v1h-1zM41 165h1v1h-1zM40 177h1v1h-1zM50 166h1v1h-1zM49 170h1v1h-1zM37 170h1v1h-1zM51 173h1v1h-1zM33 175h1v1h-1zM41 170h1v1h-1zM51 170h1v1h-1zM41 170h1v1h-1zM41 169h1v1h-1zM47 172h1v1h-1zM50 174h1v1h-1zM45 172h1v1h-1zM41 164h1v1h-1zM49 174h1v1h-1zM40 172h1v1h-1zM47 166h1v1h-1zM48 169h1v1h-1zM46 170h1v1h-1zM39 177h1v1h-1zM49 174h1v1h-1zM42 177h1v1h-1zM39 164h1v1h-1zM41 172h1v1h-1zM49 171h1v1h-1zM37 168h1v1h-1zM49 176h1v1h-1zM42 165h1v1h-1zM34 169h1v1h-1zM39 176h1v1h-1zM37 166h1v1h-1zM37 168h1v1h-1zM49 171h1v1h-1zM39 173h1v1h-1zM41 169h1v1h-1zM42 168h1v1h-1zM36 165h1v1h-1zM48 168h1v1h-1zM44 174h1v1h-1zM50 171h1v1h-1zM42 166h1v1h-1zM42 165h1v1h-1zM39 165h1v1h-1zM37 173h1v1h-1zM40 175h1v1h-1zM49 176h1v1h-1zM52 171h1v1h-1zM39 176h1v1h-1zM48 166h1v1h-1zM48 167h1v1h-1zM41 168h1v1h-1zM45 177h1v1h-1zM45 169h1v1h-1zM52 170h1v1h-1zM34 172h1v1h-1zM35 171h1v1h-1zM45 171h1v1h-1zM47 165h1v1h-1zM42 177h1v1h-1zM37 168h1v1h-1zM51 168h1v1h-1zM50 169h1v1h-1zM48 166h1v1h-1zM50 167h1v1h-1zM40 182h1v1h-1zM27 175h1v1h-1zM47 170h1v1h-1zM46 167h1v1h-1zM47 172h1v1h-1zM50 180h1v1h-1zM38 181h1v1h-1zM44 174h1v1h-1zM44 178h1v1h-1zM38 186h1v1h-1zM44 173h1v1h-1zM34 169h1v1h-1zM43 177h1v1h-1zM45 179h1v1h-1zM40 172h1v1h-1zM43 177h1v1h-1zM39 179h1v1h-1zM48 179h1v1h-1zM39 171h1v1h-1zM44 168h1v1h-1zM43 169h1v1h-1zM46 179h1v1h-1zM36 174h1v1h-1zM43 170h1v1h-1zM36 184h1v1h-1zM36 175h1v1h-1zM34 178h1v1h-1zM43 179h1v1h-1zM44 177h1v1h-1zM38 165h1v1h-1zM38 171h1v1h-1zM46 170h1v1h-1zM37 175h1v1h-1zM35 171h1v1h-1zM49 185h1v1h-1zM43 183h1v1h-1zM47 175h1v1h-1zM36 175h1v1h-1zM45 182h1v1h-1zM53 172h1v1h-1zM46 180h1v1h-1zM45 178h1v1h-1zM46 168h1v1h-1zM46 182h1v1h-1zM38 172h1v1h-1zM39 181h1v1h-1zM37 172h1v1h-1zM41 181h1v1h-1zM37 173h1v1h-1zM35 172h1v1h-1zM44 184h1v1h-1zM42 170h1v1h-1zM30.6 154.9h1.2v1.2h-1.2zM26.6 143.9h1.2v1.2h-1.2zM32.3 144.7h1.2v1.2h-1.2zM36.6 141.3h1.2v1.2h-1.2zM29.0 163.7h1.2v1.2h-1.2zM43.2 167.0h1.2v1.2h-1.2zM44.3 153.1h1.2v1.2h-1.2zM38.5 141.9h1.2v1.2h-1.2zM33.7 136.5h1.2v1.2h-1.2zM35.7 157.4h1.2v1.2h-1.2zM31.6 166.0h1.2v1.2h-1.2zM56.8 158.3h1.2v1.2h-1.2zM56.9 153.5h1.2v1.2h-1.2zM51.7 145.6h1.2v1.2h-1.2zM24.8 155.9h1.2v1.2h-1.2zM27.8 135.4h1.2v1.2h-1.2zM35.8 156.3h1.2v1.2h-1.2zM46.5 147.1h1.2v1.2h-1.2zM30.8 145.2h1.2v1.2h-1.2zM48.9 157.6h1.2v1.2h-1.2zM30.3 136.0h1.2v1.2h-1.2zM22.2 158.9h1.2v1.2h-1.2zM37.5 152.2h1.2v1.2h-1.2zM29.9 155.3h1.2v1.2h-1.2zM52.2 160.8h1.2v1.2h-1.2zM16.9 149.2h1.2v1.2h-1.2zM20.2 154.8h1.2v1.2h-1.2zM33.4 154.8h1.2v1.2h-1.2zM42.3 157.5h1.2v1.2h-1.2zM33.4 146.7h1.2v1.2h-1.2zM50.9 157.2h1.2v1.2h-1.2zM32.8 145.7h1.2v1.2h-1.2zM46.8 156.4h1.2v1.2h-1.2zM17.5 149.1h1.2v1.2h-1.2zM51.9 135.2h1.2v1.2h-1.2zM37.2 133.5h1.2v1.2h-1.2zM36.9 139.4h1.2v1.2h-1.2zM18.0 183.2h1.2v1.2h-1.2zM31.5 218.3h1.2v1.2h-1.2zM35.2 189.0h1.2v1.2h-1.2zM29.1 185.5h1.2v1.2h-1.2zM31.2 195.4h1.2v1.2h-1.2zM55.2 211.5h1.2v1.2h-1.2zM42.5 180.7h1.2v1.2h-1.2zM38.2 181.5h1.2v1.2h-1.2zM20.2 182.5h1.2v1.2h-1.2zM37.6 221.9h1.2v1.2h-1.2zM24.0 188.6h1.2v1.2h-1.2zM45.2 195.6h1.2v1.2h-1.2zM46.3 224.7h1.2v1.2h-1.2zM41.1 200.1h1.2v1.2h-1.2zM41.3 182.6h1.2v1.2h-1.2zM30.0 180.2h1.2v1.2h-1.2zM30.9 196.3h1.2v1.2h-1.2zM45.8 195.1h1.2v1.2h-1.2zM23.0 179.8h1.2v1.2h-1.2zM22.4 182.3h1.2v1.2h-1.2zM53.1 180.3h1.2v1.2h-1.2zM17.3 209.0h1.2v1.2h-1.2zM33.8 183.6h1.2v1.2h-1.2zM37.1 206.4h1.2v1.2h-1.2zM25.1 226.5h1.2v1.2h-1.2zM49.6 194.2h1.2v1.2h-1.2zM46.8 219.6h1.2v1.2h-1.2zM34.8 187.4h1.2v1.2h-1.2zM48.5 197.1h1.2v1.2h-1.2zM31.9 224.8h1.2v1.2h-1.2zM33.2 227.7h1.2v1.2h-1.2zM53.9 213.4h1.2v1.2h-1.2zM21.3 195.6h1.2v1.2h-1.2zM39.7 186.4h1.2v1.2h-1.2zM47.6 195.3h1.2v1.2h-1.2zM45.6 182.2h1.2v1.2h-1.2zM45.7 183.6h1.2v1.2h-1.2zM31.0 191.6h1.2v1.2h-1.2zM31.2 191.2h1.2v1.2h-1.2zM46.9 190.4h1.2v1.2h-1.2zM22.0 190.0h1.2v1.2h-1.2zM18.6 223.7h1.2v1.2h-1.2zM31.8 177.7h1.2v1.2h-1.2zM23.8 179.6h1.2v1.2h-1.2zM46.0 217.3h1.2v1.2h-1.2zM35.5 207.8h1.2v1.2h-1.2zM22.7 197.7h1.2v1.2h-1.2zM42.0 213.9h1.2v1.2h-1.2zM35.7 192.8h1.2v1.2h-1.2zM35.7 201.1h1.2v1.2h-1.2zM37.5 184.1h1.2v1.2h-1.2zM49.1 223.6h1.2v1.2h-1.2zM21.1 196.2h1.2v1.2h-1.2zM44.3 190.1h1.2v1.2h-1.2zM49.0 189.7h1.2v1.2h-1.2zM57.1 202.9h1.2v1.2h-1.2zM50.6 224.4h1.2v1.2h-1.2zM49.5 189.7h1.2v1.2h-1.2zM49.8 201.7h1.2v1.2h-1.2zM27.0 194.5h1.2v1.2h-1.2zM17.2 179.0h1.2v1.2h-1.2zM48.2 193.1h1.2v1.2h-1.2zM81.0 147.3h1.2v1.2h-1.2zM96.1 144.9h1.2v1.2h-1.2zM97.7 174.2h1.2v1.2h-1.2zM70.8 130.9h1.2v1.2h-1.2zM74.8 132.5h1.2v1.2h-1.2zM64.7 156.9h1.2v1.2h-1.2zM73.5 174.3h1.2v1.2h-1.2zM86.3 142.4h1.2v1.2h-1.2zM70.6 139.8h1.2v1.2h-1.2zM82.4 146.3h1.2v1.2h-1.2zM62.6 172.7h1.2v1.2h-1.2zM76.9 130.2h1.2v1.2h-1.2zM65.0 144.5h1.2v1.2h-1.2zM66.2 134.6h1.2v1.2h-1.2zM89.3 138.4h1.2v1.2h-1.2zM92.7 172.0h1.2v1.2h-1.2zM104.4 157.7h1.2v1.2h-1.2zM67.7 139.4h1.2v1.2h-1.2zM71.3 159.2h1.2v1.2h-1.2zM102.2 133.6h1.2v1.2h-1.2zM76.3 188.2h1.2v1.2h-1.2zM81.6 188.1h1.2v1.2h-1.2zM64.2 177.7h1.2v1.2h-1.2zM84.5 228.1h1.2v1.2h-1.2zM67.2 180.4h1.2v1.2h-1.2zM75.0 222.6h1.2v1.2h-1.2zM63.7 186.4h1.2v1.2h-1.2zM88.0 180.3h1.2v1.2h-1.2zM78.1 196.6h1.2v1.2h-1.2zM70.2 223.8h1.2v1.2h-1.2zM65.2 203.7h1.2v1.2h-1.2zM74.9 215.8h1.2v1.2h-1.2zM62.5 212.7h1.2v1.2h-1.2zM69.5 187.4h1.2v1.2h-1.2zM93.9 227.8h1.2v1.2h-1.2zM82.9 218.6h1.2v1.2h-1.2zM66.2 189.5h1.2v1.2h-1.2zM95.6 221.5h1.2v1.2h-1.2zM70.8 197.3h1.2v1.2h-1.2zM64.9 203.0h1.2v1.2h-1.2zM78.8 209.7h1.2v1.2h-1.2zM88.3 218.8h1.2v1.2h-1.2zM69.5 182.2h1.2v1.2h-1.2zM80.3 227.6h1.2v1.2h-1.2zM79.2 210.9h1.2v1.2h-1.2zM65.4 225.1h1.2v1.2h-1.2zM68.1 196.6h1.2v1.2h-1.2zM252.4 149.3h1.2v1.2h-1.2zM258.5 161.1h1.2v1.2h-1.2zM256.6 146.2h1.2v1.2h-1.2zM279.7 157.6h1.2v1.2h-1.2zM270.9 165.1h1.2v1.2h-1.2zM271.1 163.3h1.2v1.2h-1.2zM284.5 160.4h1.2v1.2h-1.2zM264.1 167.4h1.2v1.2h-1.2zM278.0 160.9h1.2v1.2h-1.2zM267.7 166.3h1.2v1.2h-1.2zM286.5 171.7h1.2v1.2h-1.2zM272.6 221.3h1.2v1.2h-1.2zM268.6 217.3h1.2v1.2h-1.2zM281.5 219.4h1.2v1.2h-1.2zM270.5 214.7h1.2v1.2h-1.2zM277.6 205.5h1.2v1.2h-1.2zM275.2 215.3h1.2v1.2h-1.2zM266.5 208.2h1.2v1.2h-1.2zM274.5 194.9h1.2v1.2h-1.2zM266.6 217.3h1.2v1.2h-1.2zM274.6 212.9h1.2v1.2h-1.2zM271.4 222.1h1.2v1.2h-1.2zM278.6 190.2h1.2v1.2h-1.2zM261.6 193.2h1.2v1.2h-1.2zM267.5 225.6h1.2v1.2h-1.2zM267.9 200.0h1.2v1.2h-1.2zM462.5 56.5h1.2v1.2h-1.2zM454.0 66.1h1.2v1.2h-1.2zM472.6 59.8h1.2v1.2h-1.2zM466.5 62.2h1.2v1.2h-1.2zM473.2 66.6h1.2v1.2h-1.2zM462.1 71.5h1.2v1.2h-1.2zM469.6 74.0h1.2v1.2h-1.2zM470.1 58.9h1.2v1.2h-1.2zM461.6 49.0h1.2v1.2h-1.2zM460.6 56.5h1.2v1.2h-1.2zM468.9 46.8h1.2v1.2h-1.2zM468.4 80.0h1.2v1.2h-1.2zM472.9 67.6h1.2v1.2h-1.2zM469.9 81.1h1.2v1.2h-1.2zM456.7 58.0h1.2v1.2h-1.2zM466.4 49.6h1.2v1.2h-1.2zM462.3 67.6h1.2v1.2h-1.2zM473.6 57.3h1.2v1.2h-1.2zM481.6 62.9h1.2v1.2h-1.2zM446.3 70.9h1.2v1.2h-1.2zM455.7 54.9h1.2v1.2h-1.2zM457.2 49.7h1.2v1.2h-1.2zM460.7 83.1h1.2v1.2h-1.2zM456.8 55.6h1.2v1.2h-1.2zM475.0 72.8h1.2v1.2h-1.2zM454.2 61.5h1.2v1.2h-1.2zM454.1 72.0h1.2v1.2h-1.2zM482.2 56.4h1.2v1.2h-1.2zM446.5 72.6h1.2v1.2h-1.2zM482.8 45.2h1.2v1.2h-1.2zM458.1 57.5h1.2v1.2h-1.2zM459.8 61.4h1.2v1.2h-1.2zM467.6 57.2h1.2v1.2h-1.2zM453.2 57.9h1.2v1.2h-1.2zM474.6 52.8h1.2v1.2h-1.2zM460.4 75.0h1.2v1.2h-1.2zM460.2 42.7h1.2v1.2h-1.2zM459.7 73.0h1.2v1.2h-1.2zM458.2 47.2h1.2v1.2h-1.2zM480.1 75.2h1.2v1.2h-1.2zM449.3 47.8h1.2v1.2h-1.2zM466.2 74.9h1.2v1.2h-1.2zM472.0 69.1h1.2v1.2h-1.2zM456.8 85.7h1.2v1.2h-1.2zM477.4 79.4h1.2v1.2h-1.2zM469.8 69.2h1.2v1.2h-1.2zM470.5 294.1h1.2v1.2h-1.2zM456.0 288.0h1.2v1.2h-1.2zM473.6 308.5h1.2v1.2h-1.2zM467.6 298.8h1.2v1.2h-1.2zM464.6 300.9h1.2v1.2h-1.2zM457.9 296.7h1.2v1.2h-1.2zM456.0 294.8h1.2v1.2h-1.2zM472.6 292.3h1.2v1.2h-1.2zM461.3 310.7h1.2v1.2h-1.2zM468.7 316.4h1.2v1.2h-1.2zM472.6 295.3h1.2v1.2h-1.2zM450.1 302.6h1.2v1.2h-1.2zM462.8 310.3h1.2v1.2h-1.2zM455.5 295.5h1.2v1.2h-1.2zM466.0 302.2h1.2v1.2h-1.2zM456.8 290.3h1.2v1.2h-1.2zM464.4 314.9h1.2v1.2h-1.2zM469.6 314.4h1.2v1.2h-1.2zM464.9 301.8h1.2v1.2h-1.2zM456.5 302.0h1.2v1.2h-1.2zM454.2 308.8h1.2v1.2h-1.2zM449.1 308.7h1.2v1.2h-1.2zM475.7 302.0h1.2v1.2h-1.2zM471.7 305.6h1.2v1.2h-1.2zM473.8 291.2h1.2v1.2h-1.2zM471.3 297.0h1.2v1.2h-1.2zM471.1 311.3h1.2v1.2h-1.2zM459.8 298.0h1.2v1.2h-1.2zM467.6 311.5h1.2v1.2h-1.2zM467.2 301.6h1.2v1.2h-1.2zM468.5 296.9h1.2v1.2h-1.2zM459.2 297.5h1.2v1.2h-1.2zM459.0 300.6h1.2v1.2h-1.2zM457.6 289.9h1.2v1.2h-1.2zM469.7 291.0h1.2v1.2h-1.2zM461.7 298.9h1.2v1.2h-1.2zM457.1 299.0h1.2v1.2h-1.2zM468.3 303.4h1.2v1.2h-1.2zM464.7 294.4h1.2v1.2h-1.2zM459.0 311.4h1.2v1.2h-1.2zM473.8 293.7h1.2v1.2h-1.2zM463.6 312.0h1.2v1.2h-1.2zM470.8 305.2h1.2v1.2h-1.2zM453.8 311.7h1.2v1.2h-1.2zM469.8 298.2h1.2v1.2h-1.2zM465.8 288.6h1.2v1.2h-1.2zM478.4 303.1h1.2v1.2h-1.2zM457.3 309.2h1.2v1.2h-1.2zM461.5 308.6h1.2v1.2h-1.2z" fill="#444444"/><path d="M45 177h1v1h-1zM44 170h1v1h-1zM48 171h1v1h-1zM40 168h1v1h-1zM35 168h1v1h-1zM45 167h1v1h-1zM39 173h1v1h-1zM45 165h1v1h-1zM45 172h1v1h-1zM40 168h1v1h-1zM40 171h1v1h-1zM43 176h1v1h-1zM37 175h1v1h-1zM45 170h1v1h-1zM46 165h1v1h-1zM47 175h1v1h-1zM35 174h1v1h-1zM41 176h1v1h-1zM44 164h1v1h-1zM36 175h1v1h-1zM43 164h1v1h-1zM40 174h1v1h-1zM34 174h1v1h-1zM41 173h1v1h-1zM38 165h1v1h-1zM45 174h1v1h-1zM35 172h1v1h-1zM34 171h1v1h-1zM45 170h1v1h-1zM42 173h1v1h-1zM44 178h1v1h-1zM35 173h1v1h-1zM45 173h1v1h-1zM44 175h1v1h-1zM45 179h1v1h-1zM39 171h1v1h-1zM38 170h1v1h-1zM39 176h1v1h-1zM31.8 143.6h1.2v1.2h-1.2zM39.0 150.5h1.2v1.2h-1.2zM42.0 138.7h1.2v1.2h-1.2zM45.1 135.8h1.2v1.2h-1.2zM25.0 148.4h1.2v1.2h-1.2zM48.7 147.7h1.2v1.2h-1.2zM51.8 138.1h1.2v1.2h-1.2zM45.3 141.5h1.2v1.2h-1.2zM54.6 154.9h1.2v1.2h-1.2zM41.5 141.2h1.2v1.2h-1.2zM19.8 144.6h1.2v1.2h-1.2zM33.9 147.1h1.2v1.2h-1.2zM16.6 147.2h1.2v1.2h-1.2zM42.6 144.7h1.2v1.2h-1.2zM40.9 147.1h1.2v1.2h-1.2zM44.9 138.7h1.2v1.2h-1.2zM42.8 154.9h1.2v1.2h-1.2zM25.4 141.1h1.2v1.2h-1.2zM33.5 152.9h1.2v1.2h-1.2zM47.6 134.9h1.2v1.2h-1.2zM48.9 137.9h1.2v1.2h-1.2zM44.9 142.6h1.2v1.2h-1.2zM40.9 144.1h1.2v1.2h-1.2zM50.0 140.1h1.2v1.2h-1.2zM38.0 140.4h1.2v1.2h-1.2zM34.7 143.8h1.2v1.2h-1.2zM28.7 192.6h1.2v1.2h-1.2zM39.2 206.6h1.2v1.2h-1.2zM23.6 224.2h1.2v1.2h-1.2zM45.1 206.4h1.2v1.2h-1.2zM27.9 204.5h1.2v1.2h-1.2zM32.3 203.9h1.2v1.2h-1.2zM51.0 215.1h1.2v1.2h-1.2zM41.9 197.7h1.2v1.2h-1.2zM49.8 199.8h1.2v1.2h-1.2zM42.0 210.3h1.2v1.2h-1.2zM19.3 182.8h1.2v1.2h-1.2zM36.2 191.5h1.2v1.2h-1.2zM48.3 184.6h1.2v1.2h-1.2zM45.7 208.6h1.2v1.2h-1.2zM45.5 182.2h1.2v1.2h-1.2zM49.8 228.1h1.2v1.2h-1.2zM27.0 210.7h1.2v1.2h-1.2zM29.8 188.8h1.2v1.2h-1.2zM33.3 184.8h1.2v1.2h-1.2zM40.1 197.2h1.2v1.2h-1.2zM34.3 208.1h1.2v1.2h-1.2zM39.9 177.9h1.2v1.2h-1.2zM45.0 198.7h1.2v1.2h-1.2zM36.8 219.2h1.2v1.2h-1.2zM38.3 210.8h1.2v1.2h-1.2zM47.3 180.7h1.2v1.2h-1.2zM47.6 178.7h1.2v1.2h-1.2zM33.3 185.7h1.2v1.2h-1.2zM33.3 186.5h1.2v1.2h-1.2zM21.6 191.4h1.2v1.2h-1.2zM33.3 181.5h1.2v1.2h-1.2zM16.9 220.4h1.2v1.2h-1.2zM46.7 199.9h1.2v1.2h-1.2zM44.9 198.2h1.2v1.2h-1.2zM24.0 219.5h1.2v1.2h-1.2zM39.7 188.2h1.2v1.2h-1.2zM28.3 184.4h1.2v1.2h-1.2zM57.7 219.8h1.2v1.2h-1.2zM59.5 189.0h1.2v1.2h-1.2zM35.0 206.8h1.2v1.2h-1.2zM37.3 195.1h1.2v1.2h-1.2zM45.0 213.2h1.2v1.2h-1.2zM49.1 206.6h1.2v1.2h-1.2zM45.0 186.7h1.2v1.2h-1.2zM84.9 154.6h1.2v1.2h-1.2zM91.3 143.3h1.2v1.2h-1.2zM91.1 165.2h1.2v1.2h-1.2zM73.3 136.5h1.2v1.2h-1.2zM87.3 167.0h1.2v1.2h-1.2zM76.0 153.8h1.2v1.2h-1.2zM75.6 148.3h1.2v1.2h-1.2zM92.3 164.5h1.2v1.2h-1.2zM100.0 142.5h1.2v1.2h-1.2zM91.7 152.9h1.2v1.2h-1.2zM86.8 173.5h1.2v1.2h-1.2zM73.1 222.0h1.2v1.2h-1.2zM90.5 187.6h1.2v1.2h-1.2zM72.4 205.8h1.2v1.2h-1.2zM97.4 201.6h1.2v1.2h-1.2zM87.4 221.6h1.2v1.2h-1.2zM77.3 210.2h1.2v1.2h-1.2zM85.0 193.5h1.2v1.2h-1.2zM82.0 216.0h1.2v1.2h-1.2zM86.2 211.4h1.2v1.2h-1.2zM73.8 213.5h1.2v1.2h-1.2zM62.0 187.6h1.2v1.2h-1.2zM73.5 199.4h1.2v1.2h-1.2zM64.3 227.2h1.2v1.2h-1.2zM91.4 223.2h1.2v1.2h-1.2zM71.8 195.2h1.2v1.2h-1.2zM81.6 213.9h1.2v1.2h-1.2zM98.5 228.7h1.2v1.2h-1.2zM85.9 215.5h1.2v1.2h-1.2zM70.2 213.3h1.2v1.2h-1.2zM81.2 216.8h1.2v1.2h-1.2zM71.8 214.9h1.2v1.2h-1.2zM254.1 152.3h1.2v1.2h-1.2zM271.0 156.1h1.2v1.2h-1.2zM267.4 157.1h1.2v1.2h-1.2zM264.4 164.5h1.2v1.2h-1.2zM272.0 161.3h1.2v1.2h-1.2zM267.5 168.9h1.2v1.2h-1.2zM279.9 150.4h1.2v1.2h-1.2zM267.2 129.0h1.2v1.2h-1.2zM282.7 159.2h1.2v1.2h-1.2zM263.8 155.5h1.2v1.2h-1.2zM264.7 206.5h1.2v1.2h-1.2z" fill="#888888"/><path d="M61.7 107.2V231.0M15.5 176.9H139.3" stroke="#111" stroke-width="1.4" fill="none"/><rect x="15.5" y="107.2" width="123.80000000000001" height="123.8" fill="none" stroke="#000" stroke-width="2"/><path d="M15.50 231.0v5.0M15.5 231.00h-4.1M24.82 231.0v5.0M15.5 221.68h-4.1M30.27 231.0v5.0M15.5 216.23h-4.1M34.13 231.0v5.0M15.5 212.37h-4.1M37.13 231.0v5.0M15.5 209.37h-4.1M39.58 231.0v5.0M15.5 206.92h-4.1M41.66 231.0v5.0M15.5 204.84h-4.1M43.45 231.0v5.0M15.5 203.05h-4.1M45.03 231.0v5.0M15.5 201.47h-4.1M46.45 231.0v5.0M15.5 200.05h-4.1M55.77 231.0v5.0M15.5 190.73h-4.1M61.22 231.0v5.0M15.5 185.28h-4.1M65.08 231.0v5.0M15.5 181.42h-4.1M68.08 231.0v5.0M15.5 178.42h-4.1M70.53 231.0v5.0M15.5 175.97h-4.1M72.61 231.0v5.0M15.5 173.89h-4.1M74.40 231.0v5.0M15.5 172.10h-4.1M75.98 231.0v5.0M15.5 170.52h-4.1M77.40 231.0v5.0M15.5 169.10h-4.1M86.72 231.0v5.0M15.5 159.78h-4.1M92.17 231.0v5.0M15.5 154.33h-4.1M96.03 231.0v5.0M15.5 150.47h-4.1M99.03 231.0v5.0M15.5 147.47h-4.1M101.48 231.0v5.0M15.5 145.02h-4.1M103.56 231.0v5.0M15.5 142.94h-4.1M105.35 231.0v5.0M15.5 141.15h-4.1M106.93 231.0v5.0M15.5 139.57h-4.1M108.35 231.0v5.0M15.5 138.15h-4.1M117.67 231.0v5.0M15.5 128.83h-4.1M123.12 231.0v5.0M15.5 123.38h-4.1M126.98 231.0v5.0M15.5 119.52h-4.1M129.98 231.0v5.0M15.5 116.52h-4.1M132.43 231.0v5.0M15.5 114.07h-4.1M134.51 231.0v5.0M15.5 111.99h-4.1M136.30 231.0v5.0M15.5 110.20h-4.1M137.88 231.0v5.0M15.5 108.62h-4.1M139.3 231.0v5.0M15.5 107.2h-4.1" stroke="#111" stroke-width="1.0" fill="none"/><g transform="translate(104.10,239.30)"><path d="M1.91 0H3.91V6.80H5.60V8.40H0V6.80H1.91V2.52L0.2 3.53V1.85Z" fill="#000"/><g transform="translate(9.10,0)"><rect x="0.90" y="0.90" width="4.10" height="6.60" rx="1.80" fill="none" stroke="#000" stroke-width="1.8"/><path d="M4.40 2.02L1.5 6.38" stroke="#000" stroke-width="1.5"/></g><g transform="translate(18.20,0)"><rect x="0.90" y="0.90" width="4.10" height="6.60" rx="1.80" fill="none" stroke="#000" stroke-width="1.8"/><path d="M4.40 2.02L1.5 6.38" stroke="#000" stroke-width="1.5"/></g><g transform="translate(27.30,0)"><rect x="0.90" y="0.90" width="4.10" height="6.60" rx="1.80" fill="none" stroke="#000" stroke-width="1.8"/><path d="M4.40 2.02L1.5 6.38" stroke="#000" stroke-width="1.5"/></g></g><g transform="translate(1.30,141.80) rotate(-90)"><path d="M1.91 0H3.91V7.40H5.60V9.00H0V7.40H1.91V2.70L0.2 3.78V1.98Z" fill="#000"/><g transform="translate(8.73,0)"><rect x="0.90" y="0.90" width="4.90" height="7.20" rx="1.80" fill="none" stroke="#000" stroke-width="1.8"/><path d="M5.20 2.16L1.5 6.84" stroke="#000" stroke-width="1.5"/></g><g transform="translate(17.47,0)"><rect x="0.90" y="0.90" width="4.90" height="7.20" rx="1.80" fill="none" stroke="#000" stroke-width="1.8"/><path d="M5.20 2.16L1.5 6.84" stroke="#000" stroke-width="1.5"/></g><g transform="translate(26.20,0)"><rect x="0.90" y="0.90" width="4.90" height="7.20" rx="1.80" fill="none" stroke="#000" stroke-width="1.8"/><path d="M5.20 2.16L1.5 6.84" stroke="#000" stroke-width="1.5"/></g></g><g transform="translate(13.10,238.70)"><rect x="0" y="6.70" width="2.80" height="2.4" fill="#000"/></g><g transform="translate(21.70,238.70)"><path d="M2.07 0H4.07V7.50H5.90V9.10H0V7.50H2.07V2.73L0.2 3.82V2.00Z" fill="#000"/></g><g transform="translate(1.40,218.00) rotate(-90)"><path d="M1.60 0H3.60V6.60H5.00V8.20H0V6.60H1.60V2.46L0.2 3.44V1.80Z" fill="#000"/></g><g transform="translate(1.40,225.40) rotate(-90)"><rect x="0" y="5.80" width="2.10" height="2.4" fill="#000"/></g><path d="M244.3 107.8V231.7M197.5 177.3H323.0" stroke="#111" stroke-width="1.4" fill="none"/><rect x="197.5" y="107.8" width="125.5" height="123.89999999999999" fill="none" stroke="#000" stroke-width="2"/><path d="M197.50 231.7v5.0M197.5 231.70h-4.1M206.94 231.7v5.0M197.5 222.38h-4.1M212.47 231.7v5.0M197.5 216.92h-4.1M216.39 231.7v5.0M197.5 213.05h-4.1M219.43 231.7v5.0M197.5 210.05h-4.1M221.91 231.7v5.0M197.5 207.60h-4.1M224.01 231.7v5.0M197.5 205.52h-4.1M225.83 231.7v5.0M197.5 203.73h-4.1M227.44 231.7v5.0M197.5 202.14h-4.1M228.88 231.7v5.0M197.5 200.72h-4.1M238.32 231.7v5.0M197.5 191.40h-4.1M243.84 231.7v5.0M197.5 185.95h-4.1M247.76 231.7v5.0M197.5 182.08h-4.1M250.81 231.7v5.0M197.5 179.07h-4.1M253.29 231.7v5.0M197.5 176.62h-4.1M255.39 231.7v5.0M197.5 174.55h-4.1M257.21 231.7v5.0M197.5 172.75h-4.1M258.81 231.7v5.0M197.5 171.17h-4.1M260.25 231.7v5.0M197.5 169.75h-4.1M269.69 231.7v5.0M197.5 160.43h-4.1M275.22 231.7v5.0M197.5 154.97h-4.1M279.14 231.7v5.0M197.5 151.10h-4.1M282.18 231.7v5.0M197.5 148.10h-4.1M284.66 231.7v5.0M197.5 145.65h-4.1M286.76 231.7v5.0M197.5 143.57h-4.1M288.58 231.7v5.0M197.5 141.78h-4.1M290.19 231.7v5.0M197.5 140.19h-4.1M291.62 231.7v5.0M197.5 138.77h-4.1M301.07 231.7v5.0M197.5 129.45h-4.1M306.59 231.7v5.0M197.5 124.00h-4.1M310.51 231.7v5.0M197.5 120.13h-4.1M313.56 231.7v5.0M197.5 117.12h-4.1M316.04 231.7v5.0M197.5 114.67h-4.1M318.14 231.7v5.0M197.5 112.60h-4.1M319.96 231.7v5.0M197.5 110.80h-4.1M321.56 231.7v5.0M197.5 109.22h-4.1M323.0 231.7v5.0M197.5 107.8h-4.1" stroke="#111" stroke-width="1.0" fill="none"/><g transform="translate(287.70,240.60)"><path d="M1.91 0H3.91V6.50H5.60V8.10H0V6.50H1.91V2.43L0.2 3.40V1.78Z" fill="#000"/><g transform="translate(8.87,0)"><rect x="0.90" y="0.90" width="4.10" height="6.30" rx="1.80" fill="none" stroke="#000" stroke-width="1.8"/><path d="M4.40 1.94L1.5 6.16" stroke="#000" stroke-width="1.5"/></g><g transform="translate(17.73,0)"><rect x="0.90" y="0.90" width="4.10" height="6.30" rx="1.80" fill="none" stroke="#000" stroke-width="1.8"/><path d="M4.40 1.94L1.5 6.16" stroke="#000" stroke-width="1.5"/></g><g transform="translate(26.60,0)"><rect x="0.90" y="0.90" width="4.10" height="6.30" rx="1.80" fill="none" stroke="#000" stroke-width="1.8"/><path d="M4.40 1.94L1.5 6.16" stroke="#000" stroke-width="1.5"/></g></g><g transform="translate(183.60,142.70) rotate(-90)"><path d="M1.91 0H3.91V6.60H5.60V8.20H0V6.60H1.91V2.46L0.2 3.44V1.80Z" fill="#000"/><g transform="translate(9.00,0)"><rect x="0.90" y="0.90" width="4.90" height="6.40" rx="1.80" fill="none" stroke="#000" stroke-width="1.8"/><path d="M5.20 1.97L1.5 6.23" stroke="#000" stroke-width="1.5"/></g><g transform="translate(18.00,0)"><rect x="0.90" y="0.90" width="4.90" height="6.40" rx="1.80" fill="none" stroke="#000" stroke-width="1.8"/><path d="M5.20 1.97L1.5 6.23" stroke="#000" stroke-width="1.5"/></g><g transform="translate(27.00,0)"><rect x="0.90" y="0.90" width="4.90" height="6.40" rx="1.80" fill="none" stroke="#000" stroke-width="1.8"/><path d="M5.20 1.97L1.5 6.23" stroke="#000" stroke-width="1.5"/></g></g><g transform="translate(196.00,240.40)"><rect x="0" y="5.70" width="2.40" height="2.4" fill="#000"/></g><g transform="translate(203.70,240.40)"><path d="M1.96 0H3.96V6.50H5.70V8.10H0V6.50H1.96V2.43L0.2 3.40V1.78Z" fill="#000"/></g><g transform="translate(183.80,218.20) rotate(-90)"><path d="M1.55 0H3.55V6.20H4.90V7.80H0V6.20H1.55V2.34L0.2 3.28V1.72Z" fill="#000"/></g><g transform="translate(183.80,226.90) rotate(-90)"><rect x="0" y="5.40" width="2.10" height="2.4" fill="#000"/></g><path d="M438.9 17.4V139.6M393.3 86.5H516.8" stroke="#111" stroke-width="1.4" fill="none"/><rect x="393.3" y="17.4" width="123.49999999999994" height="122.19999999999999" fill="none" stroke="#000" stroke-width="2"/><path d="M393.30 139.6v5.0M393.3 139.60h-4.1M402.59 139.6v5.0M393.3 130.40h-4.1M408.03 139.6v5.0M393.3 125.02h-4.1M411.89 139.6v5.0M393.3 121.21h-4.1M414.88 139.6v5.0M393.3 118.25h-4.1M417.33 139.6v5.0M393.3 115.83h-4.1M419.39 139.6v5.0M393.3 113.78h-4.1M421.18 139.6v5.0M393.3 112.01h-4.1M422.76 139.6v5.0M393.3 110.45h-4.1M424.18 139.6v5.0M393.3 109.05h-4.1M433.47 139.6v5.0M393.3 99.85h-4.1M438.91 139.6v5.0M393.3 94.47h-4.1M442.76 139.6v5.0M393.3 90.66h-4.1M445.76 139.6v5.0M393.3 87.70h-4.1M448.20 139.6v5.0M393.3 85.28h-4.1M450.27 139.6v5.0M393.3 83.23h-4.1M452.06 139.6v5.0M393.3 81.46h-4.1M453.64 139.6v5.0M393.3 79.90h-4.1M455.05 139.6v5.0M393.3 78.50h-4.1M464.34 139.6v5.0M393.3 69.30h-4.1M469.78 139.6v5.0M393.3 63.92h-4.1M473.64 139.6v5.0M393.3 60.11h-4.1M476.63 139.6v5.0M393.3 57.15h-4.1M479.08 139.6v5.0M393.3 54.73h-4.1M481.14 139.6v5.0M393.3 52.68h-4.1M482.93 139.6v5.0M393.3 50.91h-4.1M484.51 139.6v5.0M393.3 49.35h-4.1M485.92 139.6v5.0M393.3 47.95h-4.1M495.22 139.6v5.0M393.3 38.75h-4.1M500.66 139.6v5.0M393.3 33.37h-4.1M504.51 139.6v5.0M393.3 29.56h-4.1M507.51 139.6v5.0M393.3 26.60h-4.1M509.95 139.6v5.0M393.3 24.18h-4.1M512.02 139.6v5.0M393.3 22.13h-4.1M513.81 139.6v5.0M393.3 20.36h-4.1M515.39 139.6v5.0M393.3 18.80h-4.1M516.8 139.6v5.0M393.3 17.4h-4.1" stroke="#111" stroke-width="1.0" fill="none"/><g transform="translate(481.90,147.60)"><path d="M1.91 0H3.91V6.90H5.60V8.50H0V6.90H1.91V2.55L0.2 3.57V1.87Z" fill="#000"/><g transform="translate(8.77,0)"><rect x="0.90" y="0.90" width="4.10" height="6.70" rx="1.80" fill="none" stroke="#000" stroke-width="1.8"/><path d="M4.40 2.04L1.5 6.46" stroke="#000" stroke-width="1.5"/></g><g transform="translate(17.53,0)"><rect x="0.90" y="0.90" width="4.10" height="6.70" rx="1.80" fill="none" stroke="#000" stroke-width="1.8"/><path d="M4.40 2.04L1.5 6.46" stroke="#000" stroke-width="1.5"/></g><g transform="translate(26.30,0)"><rect x="0.90" y="0.90" width="4.10" height="6.70" rx="1.80" fill="none" stroke="#000" stroke-width="1.8"/><path d="M4.40 2.04L1.5 6.46" stroke="#000" stroke-width="1.5"/></g></g><g transform="translate(379.20,51.60) rotate(-90)"><path d="M1.91 0H3.91V6.50H5.60V8.10H0V6.50H1.91V2.43L0.2 3.40V1.78Z" fill="#000"/><g transform="translate(8.30,0)"><rect x="0.90" y="0.90" width="4.90" height="6.30" rx="1.80" fill="none" stroke="#000" stroke-width="1.8"/><path d="M5.20 1.94L1.5 6.16" stroke="#000" stroke-width="1.5"/></g><g transform="translate(16.60,0)"><rect x="0.90" y="0.90" width="4.90" height="6.30" rx="1.80" fill="none" stroke="#000" stroke-width="1.8"/><path d="M5.20 1.94L1.5 6.16" stroke="#000" stroke-width="1.5"/></g><g transform="translate(24.90,0)"><rect x="0.90" y="0.90" width="4.90" height="6.30" rx="1.80" fill="none" stroke="#000" stroke-width="1.8"/><path d="M5.20 1.94L1.5 6.16" stroke="#000" stroke-width="1.5"/></g></g><g transform="translate(392.00,147.50)"><rect x="0" y="6.00" width="2.40" height="2.4" fill="#000"/></g><g transform="translate(399.30,147.50)"><path d="M2.22 0H4.22V6.80H6.20V8.40H0V6.80H2.22V2.52L0.2 3.53V1.85Z" fill="#000"/></g><g transform="translate(379.30,126.40) rotate(-90)"><path d="M1.60 0H3.60V6.60H5.00V8.20H0V6.60H1.60V2.46L0.2 3.44V1.80Z" fill="#000"/></g><g transform="translate(379.30,133.90) rotate(-90)"><rect x="0" y="5.80" width="2.10" height="2.4" fill="#000"/></g><path d="M438.9 199.3V324.6M392.9 269.9H517.6" stroke="#111" stroke-width="1.4" fill="none"/><rect x="392.9" y="199.3" width="124.70000000000005" height="125.30000000000001" fill="none" stroke="#000" stroke-width="2"/><path d="M392.90 324.6v5.0M392.9 324.60h-4.1M402.28 324.6v5.0M392.9 315.17h-4.1M407.77 324.6v5.0M392.9 309.65h-4.1M411.67 324.6v5.0M392.9 305.74h-4.1M414.69 324.6v5.0M392.9 302.70h-4.1M417.16 324.6v5.0M392.9 300.22h-4.1M419.25 324.6v5.0M392.9 298.13h-4.1M421.05 324.6v5.0M392.9 296.31h-4.1M422.65 324.6v5.0M392.9 294.71h-4.1M424.07 324.6v5.0M392.9 293.28h-4.1M433.46 324.6v5.0M392.9 283.85h-4.1M438.95 324.6v5.0M392.9 278.33h-4.1M442.84 324.6v5.0M392.9 274.42h-4.1M445.87 324.6v5.0M392.9 271.38h-4.1M448.33 324.6v5.0M392.9 268.90h-4.1M450.42 324.6v5.0M392.9 266.80h-4.1M452.23 324.6v5.0M392.9 264.99h-4.1M453.82 324.6v5.0M392.9 263.38h-4.1M455.25 324.6v5.0M392.9 261.95h-4.1M464.63 324.6v5.0M392.9 252.52h-4.1M470.12 324.6v5.0M392.9 247.00h-4.1M474.02 324.6v5.0M392.9 243.09h-4.1M477.04 324.6v5.0M392.9 240.05h-4.1M479.51 324.6v5.0M392.9 237.57h-4.1M481.60 324.6v5.0M392.9 235.48h-4.1M483.40 324.6v5.0M392.9 233.66h-4.1M485.00 324.6v5.0M392.9 232.06h-4.1M486.43 324.6v5.0M392.9 230.62h-4.1M495.81 324.6v5.0M392.9 221.20h-4.1M501.30 324.6v5.0M392.9 215.68h-4.1M505.19 324.6v5.0M392.9 211.77h-4.1M508.22 324.6v5.0M392.9 208.73h-4.1M510.68 324.6v5.0M392.9 206.25h-4.1M512.77 324.6v5.0M392.9 204.15h-4.1M514.58 324.6v5.0M392.9 202.34h-4.1M516.17 324.6v5.0M392.9 200.73h-4.1M517.6 324.6v5.0M392.9 199.3h-4.1" stroke="#111" stroke-width="1.0" fill="none"/><g transform="translate(482.40,332.30)"><path d="M1.91 0H3.91V6.90H5.60V8.50H0V6.90H1.91V2.55L0.2 3.57V1.87Z" fill="#000"/><g transform="translate(8.97,0)"><rect x="0.90" y="0.90" width="4.10" height="6.70" rx="1.80" fill="none" stroke="#000" stroke-width="1.8"/><path d="M4.40 2.04L1.5 6.46" stroke="#000" stroke-width="1.5"/></g><g transform="translate(17.93,0)"><rect x="0.90" y="0.90" width="4.10" height="6.70" rx="1.80" fill="none" stroke="#000" stroke-width="1.8"/><path d="M4.40 2.04L1.5 6.46" stroke="#000" stroke-width="1.5"/></g><g transform="translate(26.90,0)"><rect x="0.90" y="0.90" width="4.10" height="6.70" rx="1.80" fill="none" stroke="#000" stroke-width="1.8"/><path d="M4.40 2.04L1.5 6.46" stroke="#000" stroke-width="1.5"/></g></g><g transform="translate(378.60,234.50) rotate(-90)"><path d="M1.91 0H3.91V6.50H5.60V8.10H0V6.50H1.91V2.43L0.2 3.40V1.78Z" fill="#000"/><g transform="translate(8.97,0)"><rect x="0.90" y="0.90" width="4.90" height="6.30" rx="1.80" fill="none" stroke="#000" stroke-width="1.8"/><path d="M5.20 1.94L1.5 6.16" stroke="#000" stroke-width="1.5"/></g><g transform="translate(17.93,0)"><rect x="0.90" y="0.90" width="4.90" height="6.30" rx="1.80" fill="none" stroke="#000" stroke-width="1.8"/><path d="M5.20 1.94L1.5 6.16" stroke="#000" stroke-width="1.5"/></g><g transform="translate(26.90,0)"><rect x="0.90" y="0.90" width="4.90" height="6.30" rx="1.80" fill="none" stroke="#000" stroke-width="1.8"/><path d="M5.20 1.94L1.5 6.16" stroke="#000" stroke-width="1.5"/></g></g><g transform="translate(391.20,332.40)"><rect x="0" y="6.00" width="2.70" height="2.4" fill="#000"/></g><g transform="translate(398.60,332.40)"><path d="M2.38 0H4.38V6.80H6.50V8.40H0V6.80H2.38V2.52L0.2 3.53V1.85Z" fill="#000"/></g><g transform="translate(378.60,310.60) rotate(-90)"><path d="M1.91 0H3.91V6.70H5.60V8.30H0V6.70H1.91V2.49L0.2 3.49V1.83Z" fill="#000"/></g><g transform="translate(378.60,318.90) rotate(-90)"><rect x="0" y="5.90" width="2.20" height="2.4" fill="#000"/></g><text x="28.3" y="90.8" font-family="Liberation Sans, sans-serif" font-size="17" stroke="#000" stroke-width="0.35">Spleen cells</text><text x="197.6" y="78.2" font-family="Liberation Sans, sans-serif" font-size="17" stroke="#000" stroke-width="0.35">Unseparated</text><text x="197.6" y="98.4" font-family="Liberation Sans, sans-serif" font-size="17" stroke="#000" stroke-width="0.35">purified T cells</text><text x="393.3" y="13.4" font-family="Liberation Sans, sans-serif" font-size="17" stroke="#000" stroke-width="0.35">CD62L</text><path d="M448 5.35H452.6M450.3 3V7.7" stroke="#000" stroke-width="1.3"/><rect x="517" y="15" width="1.5" height="12" fill="#000"/><text x="458.4" y="13.4" font-family="Liberation Sans, sans-serif" font-size="17" stroke="#000" stroke-width="0.35">T cells</text><text x="393.0" y="195.8" font-family="Liberation Sans, sans-serif" font-size="17" stroke="#000" stroke-width="0.35">CD62L</text><rect x="446.3" y="188.1" width="3.5" height="1.8" fill="#000"/><text x="455.1" y="195.8" font-family="Liberation Sans, sans-serif" font-size="17" stroke="#000" stroke-width="0.35">T cells</text><text x="22.3" y="130" font-family="Liberation Sans, sans-serif" font-size="17" stroke="#000" stroke-width="0.35">52.1</text><text x="135.5" y="130" font-family="Liberation Sans, sans-serif" font-size="17" stroke="#000" stroke-width="0.35" text-anchor="end">25.8</text><text x="134.5" y="222.5" font-family="Liberation Sans, sans-serif" font-size="17" stroke="#000" stroke-width="0.35" text-anchor="end">6.7</text><text x="210.5" y="130.7" font-family="Liberation Sans, sans-serif" font-size="17" stroke="#000" stroke-width="0.35">2.5</text><text x="316.3" y="130.7" font-family="Liberation Sans, sans-serif" font-size="17" stroke="#000" stroke-width="0.35" text-anchor="end">80.7</text><text x="302.2" y="222.2" font-family="Liberation Sans, sans-serif" font-size="17" stroke="#000" stroke-width="0.35" text-anchor="end">15</text><text x="399.5" y="39.7" font-family="Liberation Sans, sans-serif" font-size="17" stroke="#000" stroke-width="0.35">2.4</text><text x="514.6" y="40" font-family="Liberation Sans, sans-serif" font-size="17" stroke="#000" stroke-width="0.35" text-anchor="end">87.4</text><text x="514.3" y="130.5" font-family="Liberation Sans, sans-serif" font-size="17" stroke="#000" stroke-width="0.35" text-anchor="end">8.8</text><text x="398.8" y="223" font-family="Liberation Sans, sans-serif" font-size="17" stroke="#000" stroke-width="0.35">0.1</text><text x="512.5" y="223" font-family="Liberation Sans, sans-serif" font-size="17" stroke="#000" stroke-width="0.35" text-anchor="end">0.3</text><text x="514.2" y="315" font-family="Liberation Sans, sans-serif" font-size="17" stroke="#000" stroke-width="0.35" text-anchor="end">93.8</text><path d="M142.5 168.4H156.4V158.8L181.4 171.1L156.4 183.6V173.3H142.5Z" fill="#000"/><path d="M325.81 171.57 L366.56 102.47 L375.30 107.63 L377.20 80.30 L354.20 95.18 L362.94 100.34 L322.19 169.43Z" fill="#000"/><path d="M322.74 185.15 L360.05 242.26 L351.55 247.81 L376.30 263.30 L372.06 234.41 L363.57 239.97 L326.26 182.85Z" fill="#000"/><path d="M62 304.7V275H51.7L63.9 250L75.8 275H66.7V299.2H90.5V290.8L115.6 302.5L90.5 314.4V304.7Z" fill="#000"/><text transform="translate(50,310.5) rotate(-90)" font-family="Liberation Sans, sans-serif" font-size="17">CD62L</text><text x="66.2" y="333.3" font-family="Liberation Sans, sans-serif" font-size="17" stroke="#000" stroke-width="0.35">CD3</text></svg></body></html>
